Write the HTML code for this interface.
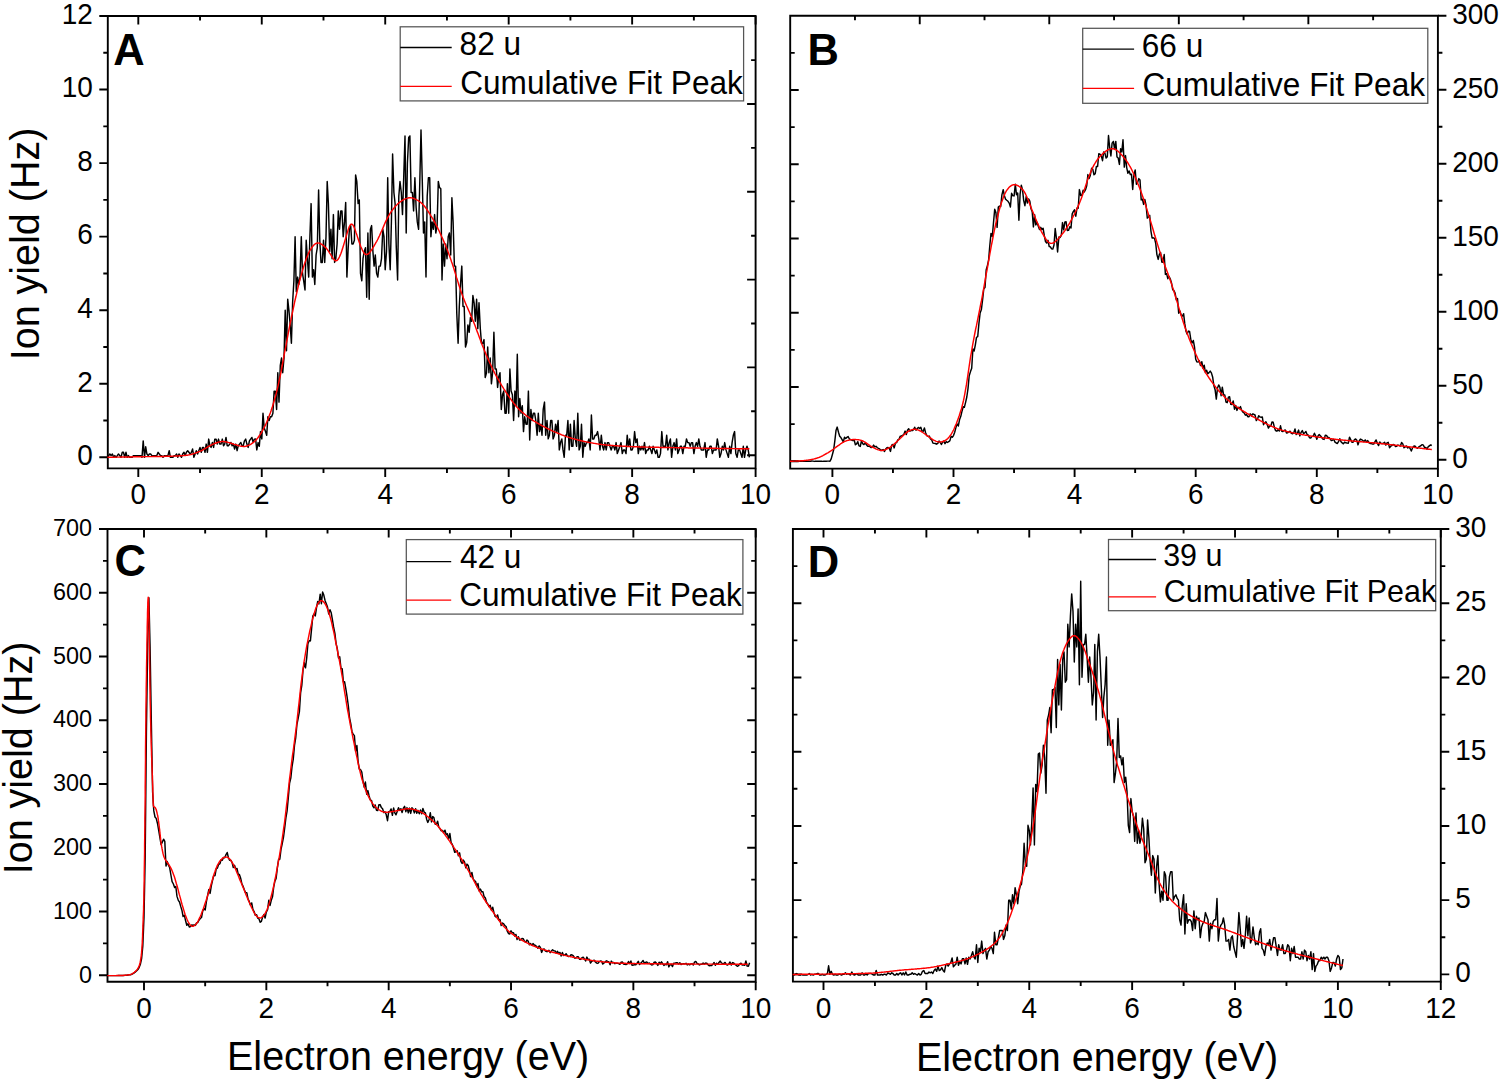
<!DOCTYPE html>
<html><head><meta charset="utf-8"><title>Ion yield spectra</title>
<style>html,body{margin:0;padding:0;background:#fff;}svg{display:block;}text{font-family:"Liberation Sans", sans-serif;}</style>
</head><body>
<svg width="1500" height="1081" viewBox="0 0 1500 1081" font-family='"Liberation Sans", sans-serif' fill="#000">
<path d="M107.8,16.0H755.6V468.4H107.8Z" fill="none" stroke="#000" stroke-width="1.9" stroke-linejoin="miter"/>
<path d="M138.30,468.4v8.5M261.76,468.4v8.5M385.22,468.4v8.5M508.68,468.4v8.5M632.14,468.4v8.5M755.60,468.4v8.5M200.03,468.4v4.5M323.49,468.4v4.5M446.95,468.4v4.5M570.41,468.4v4.5M693.87,468.4v4.5M138.30,16.0v8.5M261.76,16.0v8.5M385.22,16.0v8.5M508.68,16.0v8.5M632.14,16.0v8.5M755.60,16.0v8.5M200.03,16.0v4.5M323.49,16.0v4.5M446.95,16.0v4.5M570.41,16.0v4.5M693.87,16.0v4.5M107.8,457.30h-8.5M107.8,383.75h-8.5M107.8,310.20h-8.5M107.8,236.65h-8.5M107.8,163.10h-8.5M107.8,89.55h-8.5M107.8,16.00h-8.5M107.8,420.53h-4.5M107.8,346.98h-4.5M107.8,273.43h-4.5M107.8,199.88h-4.5M107.8,126.33h-4.5M107.8,52.78h-4.5M755.6,455.20h-8.5M755.6,411.30h-4.5M755.6,367.40h-8.5M755.6,323.50h-4.5M755.6,279.60h-8.5M755.6,235.70h-4.5M755.6,191.80h-8.5M755.6,147.90h-4.5M755.6,104.00h-8.5M755.6,60.10h-4.5" fill="none" stroke="#000" stroke-width="1.9"/>
<text transform="translate(138.30,504.00) scale(1,1.035)" text-anchor="middle" font-size="28">0</text>
<text transform="translate(261.76,504.00) scale(1,1.035)" text-anchor="middle" font-size="28">2</text>
<text transform="translate(385.22,504.00) scale(1,1.035)" text-anchor="middle" font-size="28">4</text>
<text transform="translate(508.68,504.00) scale(1,1.035)" text-anchor="middle" font-size="28">6</text>
<text transform="translate(632.14,504.00) scale(1,1.035)" text-anchor="middle" font-size="28">8</text>
<text transform="translate(755.60,504.00) scale(1,1.035)" text-anchor="middle" font-size="28">10</text>
<text transform="translate(92.80,465.10) scale(1,1.035)" text-anchor="end" font-size="28.0">0</text>
<text transform="translate(92.80,391.55) scale(1,1.035)" text-anchor="end" font-size="28.0">2</text>
<text transform="translate(92.80,318.00) scale(1,1.035)" text-anchor="end" font-size="28.0">4</text>
<text transform="translate(92.80,244.45) scale(1,1.035)" text-anchor="end" font-size="28.0">6</text>
<text transform="translate(92.80,170.90) scale(1,1.035)" text-anchor="end" font-size="28.0">8</text>
<text transform="translate(92.80,97.35) scale(1,1.035)" text-anchor="end" font-size="28.0">10</text>
<text transform="translate(92.80,23.80) scale(1,1.035)" text-anchor="end" font-size="28.0">12</text>
<text transform="translate(113.20,64.50)" font-size="43.5" font-weight="bold">A</text>
<path d="M107.4,457.3L108.7,455.6L109.9,454.0L111.1,455.6L112.4,454.0L113.6,457.3L114.8,455.6L116.1,457.3L117.3,455.6L118.5,454.0L119.8,455.6L121.0,457.3L122.3,452.3L123.5,452.3L124.7,457.3L126.0,452.3L127.2,457.3L128.4,455.6L129.7,457.3L130.9,457.3L132.1,457.3L133.4,455.6L134.6,455.6L135.8,455.6L137.1,455.6L138.3,455.6L139.5,455.6L140.8,455.6L142.0,457.3L143.2,440.9L144.5,457.3L145.7,446.8L146.9,454.0L148.2,455.6L149.4,454.0L150.6,454.0L151.9,455.6L153.1,455.6L154.3,455.6L155.6,455.6L156.8,455.6L158.1,452.3L159.3,454.0L160.5,455.6L161.8,455.6L163.0,457.3L164.2,455.6L165.5,455.6L166.7,455.6L167.9,455.6L169.2,450.7L170.4,457.3L171.6,457.3L172.9,457.3L174.1,455.6L175.3,455.6L176.6,454.0L177.8,457.3L179.0,454.0L180.3,455.6L181.5,457.3L182.7,454.0L184.0,452.3L185.2,455.6L186.4,452.3L187.7,450.7L188.9,452.3L190.2,454.0L191.4,452.3L192.6,449.0L193.9,457.3L195.1,454.0L196.3,450.7L197.6,454.0L198.8,450.7L200.0,447.4L201.3,452.3L202.5,447.4L203.7,447.4L205.0,452.3L206.2,444.1L207.4,452.3L208.7,439.1L209.9,445.7L211.1,447.4L212.4,442.4L213.6,447.4L214.8,439.1L216.1,439.1L217.3,444.1L218.5,439.1L219.8,444.1L221.0,444.1L222.3,439.1L223.5,445.7L224.7,444.1L226.0,437.4L227.2,445.7L228.4,445.7L229.7,444.1L230.9,442.4L232.1,445.7L233.4,444.1L234.6,449.0L235.8,444.1L237.1,450.7L238.3,445.7L239.5,444.1L240.8,442.4L242.0,445.7L243.2,445.7L244.5,440.8L245.7,439.1L246.9,444.1L248.2,447.4L249.4,440.8L250.6,439.1L251.9,437.4L253.1,442.4L254.4,439.1L255.6,438.9L256.8,449.9L258.1,442.6L259.3,446.3L260.5,431.6L261.8,438.9L263.0,413.2L264.2,427.9L265.5,431.6L266.7,435.2L267.9,416.8L269.2,420.5L270.4,416.8L271.6,416.8L272.9,413.2L274.1,391.1L275.3,391.1L276.6,409.5L277.8,372.7L279.0,402.1L280.3,365.4L281.5,358.0L282.7,372.7L284.0,358.0L285.2,310.2L286.5,350.7L287.7,299.2L288.9,310.2L290.2,324.9L291.4,343.3L292.6,302.8L293.9,280.8L295.1,236.7L296.3,291.8L297.6,277.1L298.8,284.5L300.0,277.1L301.3,236.7L302.5,273.4L303.7,280.8L305.0,290.0L306.2,240.3L307.4,258.7L308.7,277.1L309.9,236.7L311.1,203.6L312.4,277.1L313.6,269.7L314.8,284.5L316.1,255.0L317.3,247.7L318.6,189.9L319.8,240.3L321.0,262.4L322.3,262.4L323.5,240.3L324.7,262.4L326.0,236.7L327.2,181.5L328.4,203.6L329.7,251.4L330.9,229.3L332.1,258.7L333.4,214.6L334.6,262.4L335.8,258.7L337.1,244.0L338.3,210.9L339.5,229.3L340.8,210.9L342.0,210.9L343.2,236.7L344.5,221.9L345.7,202.4L346.9,277.1L348.2,247.7L349.4,229.3L350.7,225.6L351.9,244.0L353.1,244.0L354.4,240.3L355.6,174.9L356.8,181.5L358.1,203.6L359.3,199.9L360.5,273.4L361.8,280.8L363.0,258.7L364.2,251.4L365.5,247.7L366.7,297.3L367.9,233.0L369.2,299.2L370.4,229.3L371.6,225.6L372.9,251.4L374.1,266.1L375.3,255.0L376.6,273.4L377.8,277.1L379.0,266.1L380.3,266.1L381.5,258.7L382.8,229.3L384.0,236.7L385.2,269.7L386.5,251.4L387.7,177.8L388.9,244.0L390.2,269.7L391.4,221.9L392.6,153.9L393.9,192.5L395.1,203.6L396.3,247.7L397.6,280.0L398.8,196.2L400.0,181.5L401.3,192.5L402.5,214.6L403.7,177.8L405.0,135.9L406.2,233.0L407.4,163.1L408.7,137.4L409.9,135.9L411.1,192.5L412.4,192.5L413.6,210.9L414.9,177.8L416.1,207.2L417.3,221.9L418.6,229.3L419.8,181.5L421.0,130.0L422.3,181.5L423.5,233.0L424.7,221.9L426.0,277.1L427.2,196.2L428.4,177.8L429.7,177.8L430.9,236.7L432.1,221.9L433.4,229.3L434.6,214.6L435.8,233.0L437.1,225.6L438.3,181.5L439.5,187.4L440.8,188.8L442.0,280.0L443.2,244.0L444.5,266.1L445.7,244.0L447.0,258.7L448.2,236.7L449.4,233.0L450.7,255.0L451.9,197.7L453.1,221.9L454.4,266.1L455.6,266.1L456.8,313.9L458.1,343.3L459.3,306.5L460.5,284.5L461.8,266.1L463.0,306.5L464.2,306.5L465.5,347.0L466.7,342.6L467.9,324.9L469.2,332.3L470.4,317.6L471.6,321.2L472.9,295.5L474.1,302.8L475.3,321.2L476.6,299.2L477.8,328.6L479.0,302.8L480.3,328.6L481.5,343.3L482.8,343.3L484.0,339.6L485.2,377.5L486.5,372.7L487.7,347.0L488.9,372.7L490.2,358.0L491.4,383.8L492.6,372.7L493.9,332.3L495.1,369.0L496.3,369.0L497.6,387.4L498.8,376.4L500.0,372.7L501.3,409.5L502.5,394.8L503.7,391.1L505.0,413.2L506.2,413.2L507.4,383.8L508.7,413.2L509.9,369.0L511.1,391.1L512.4,394.8L513.6,420.5L514.9,391.1L516.1,405.8L517.3,354.3L518.6,416.8L519.8,398.5L521.0,413.2L522.3,405.8L523.5,431.6L524.7,416.8L526.0,424.2L527.2,424.2L528.4,391.1L529.7,440.0L530.9,409.5L532.1,420.5L533.4,413.2L534.6,413.2L535.8,420.5L537.1,435.2L538.3,413.2L539.5,431.6L540.8,424.2L542.0,435.2L543.2,409.5L544.5,402.1L545.7,435.2L547.0,420.5L548.2,438.9L549.4,435.2L550.7,420.5L551.9,420.5L553.1,438.9L554.4,435.2L555.6,424.2L556.8,431.6L558.1,420.5L559.3,449.9L560.5,442.6L561.8,438.9L563.0,449.9L564.2,457.3L565.5,435.2L566.7,435.2L567.9,420.5L569.2,449.9L570.4,424.2L571.6,446.3L572.9,446.3L574.1,420.5L575.3,438.9L576.6,446.3L577.8,413.2L579.1,449.9L580.3,446.3L581.5,424.2L582.8,457.3L584.0,442.6L585.2,446.3L586.5,442.6L587.7,442.6L588.9,438.9L590.2,449.9L591.4,415.0L592.6,438.9L593.9,438.9L595.1,435.2L596.3,435.2L597.6,431.6L598.8,438.9L600.0,449.9L601.3,435.2L602.5,446.3L603.7,449.9L605.0,442.6L606.2,449.9L607.4,442.6L608.7,442.6L609.9,446.3L611.2,449.9L612.4,446.3L613.6,446.3L614.9,449.9L616.1,442.6L617.3,453.6L618.6,449.9L619.8,446.3L621.0,442.6L622.3,453.6L623.5,449.9L624.7,449.9L626.0,453.6L627.2,435.2L628.4,446.3L629.7,438.9L630.9,449.9L632.1,449.9L633.4,446.3L634.6,431.6L635.8,442.6L637.1,438.9L638.3,453.6L639.5,446.3L640.8,449.9L642.0,446.3L643.3,449.9L644.5,442.6L645.7,453.6L647.0,449.9L648.2,449.9L649.4,446.3L650.7,449.9L651.9,453.6L653.1,446.3L654.4,449.9L655.6,453.6L656.8,449.9L658.1,457.3L659.3,457.3L660.5,453.6L661.8,431.6L663.0,446.3L664.2,446.3L665.5,446.3L666.7,435.2L667.9,449.9L669.2,442.6L670.4,438.9L671.6,457.3L672.9,446.3L674.1,442.6L675.4,449.9L676.6,438.9L677.8,453.6L679.1,449.9L680.3,446.3L681.5,446.3L682.8,453.6L684.0,446.3L685.2,446.3L686.5,438.9L687.7,442.6L688.9,442.6L690.2,446.3L691.4,442.6L692.6,442.6L693.9,453.6L695.1,446.3L696.3,442.6L697.6,446.3L698.8,438.9L700.0,446.3L701.3,449.9L702.5,449.9L703.7,449.9L705.0,442.6L706.2,457.3L707.5,449.9L708.7,449.9L709.9,446.3L711.2,446.3L712.4,453.6L713.6,449.9L714.9,449.9L716.1,449.9L717.3,438.9L718.6,446.3L719.8,457.3L721.0,453.6L722.3,446.3L723.5,449.9L724.7,442.6L726.0,449.9L727.2,453.6L728.4,457.3L729.7,446.3L730.9,453.6L732.1,442.6L733.4,434.9L734.6,431.6L735.8,453.6L737.1,457.3L738.3,449.9L739.6,449.9L740.8,453.6L742.0,457.3L743.3,446.3L744.5,457.3L745.7,449.9L747.0,446.3L748.2,449.9L749.4,457.3" fill="none" stroke="#000" stroke-width="1.45" stroke-linejoin="round"/>
<path d="M107.4,457.3L108.1,457.3L108.9,457.3L109.6,457.3L110.3,457.2L111.0,457.2L111.7,457.2L112.4,457.2L113.1,457.2L113.9,457.2L114.6,457.2L115.3,457.1L116.0,457.1L116.7,457.1L117.4,457.1L118.1,457.1L118.9,457.1L119.6,457.1L120.3,457.1L121.0,457.0L121.7,457.0L122.4,457.0L123.1,457.0L123.9,457.0L124.6,457.0L125.3,457.0L126.0,457.0L126.7,456.9L127.4,456.9L128.1,456.9L128.9,456.9L129.6,456.9L130.3,456.9L131.0,456.9L131.7,456.9L132.4,456.8L133.1,456.8L133.9,456.8L134.6,456.8L135.3,456.8L136.0,456.8L136.7,456.8L137.4,456.8L138.1,456.7L138.9,456.7L139.6,456.7L140.3,456.7L141.0,456.7L141.7,456.7L142.4,456.7L143.1,456.7L143.9,456.7L144.6,456.6L145.3,456.6L146.0,456.6L146.7,456.6L147.4,456.6L148.1,456.6L148.9,456.6L149.6,456.6L150.3,456.6L151.0,456.6L151.7,456.6L152.4,456.5L153.1,456.5L153.9,456.5L154.6,456.5L155.3,456.5L156.0,456.5L156.7,456.5L157.4,456.5L158.1,456.5L158.9,456.5L159.6,456.4L160.3,456.4L161.0,456.4L161.7,456.4L162.4,456.4L163.1,456.4L163.9,456.4L164.6,456.4L165.3,456.3L166.0,456.3L166.7,456.3L167.4,456.3L168.1,456.3L168.8,456.2L169.6,456.2L170.3,456.2L171.0,456.2L171.7,456.2L172.4,456.1L173.1,456.1L173.8,456.1L174.6,456.1L175.3,456.0L176.0,456.0L176.7,456.0L177.4,455.9L178.1,455.9L178.8,455.9L179.6,455.8L180.3,455.8L181.0,455.7L181.7,455.7L182.4,455.6L183.1,455.6L183.8,455.5L184.6,455.5L185.3,455.4L186.0,455.3L186.7,455.3L187.4,455.2L188.1,455.1L188.8,454.9L189.6,454.8L190.3,454.6L191.0,454.5L191.7,454.3L192.4,454.1L193.1,453.8L193.8,453.6L194.6,453.4L195.3,453.1L196.0,452.8L196.7,452.6L197.4,452.3L198.1,452.0L198.8,451.7L199.6,451.4L200.3,451.1L201.0,450.8L201.7,450.5L202.4,450.1L203.1,449.7L203.8,449.3L204.6,448.9L205.3,448.5L206.0,448.0L206.7,447.6L207.4,447.2L208.1,446.7L208.8,446.3L209.6,445.9L210.3,445.5L211.0,445.1L211.7,444.8L212.4,444.4L213.1,444.1L213.8,443.8L214.6,443.5L215.3,443.3L216.0,443.0L216.7,442.7L217.4,442.5L218.1,442.3L218.8,442.1L219.6,441.9L220.3,441.7L221.0,441.6L221.7,441.5L222.4,441.5L223.1,441.5L223.8,441.5L224.6,441.6L225.3,441.7L226.0,441.9L226.7,442.0L227.4,442.2L228.1,442.4L228.8,442.6L229.5,442.8L230.3,443.1L231.0,443.3L231.7,443.5L232.4,443.7L233.1,443.9L233.8,444.2L234.5,444.4L235.3,444.6L236.0,444.8L236.7,445.0L237.4,445.3L238.1,445.5L238.8,445.7L239.5,445.9L240.3,446.1L241.0,446.2L241.7,446.3L242.4,446.4L243.1,446.5L243.8,446.5L244.5,446.4L245.3,446.4L246.0,446.2L246.7,446.0L247.4,445.8L248.1,445.5L248.8,445.2L249.5,444.9L250.3,444.5L251.0,444.1L251.7,443.6L252.4,443.1L253.1,442.6L253.8,442.1L254.5,441.5L255.3,440.8L256.0,440.1L256.7,439.3L257.4,438.4L258.1,437.5L258.8,436.5L259.5,435.5L260.3,434.4L261.0,433.3L261.7,432.2L262.4,430.9L263.1,429.7L263.8,428.3L264.5,426.9L265.3,425.4L266.0,423.8L266.7,422.2L267.4,420.5L268.1,418.7L268.8,416.9L269.5,415.0L270.3,413.0L271.0,411.0L271.7,408.8L272.4,406.7L273.1,404.4L273.8,402.0L274.5,399.6L275.3,397.0L276.0,394.4L276.7,391.6L277.4,388.7L278.1,385.7L278.8,382.5L279.5,379.2L280.3,375.7L281.0,372.1L281.7,368.3L282.4,364.5L283.1,360.6L283.8,356.8L284.5,352.9L285.3,349.1L286.0,345.3L286.7,341.5L287.4,337.8L288.1,334.1L288.8,330.4L289.5,326.8L290.2,323.2L291.0,319.7L291.7,316.2L292.4,312.7L293.1,309.4L293.8,306.0L294.5,302.7L295.2,299.5L296.0,296.3L296.7,293.2L297.4,290.1L298.1,287.1L298.8,284.2L299.5,281.4L300.2,278.6L301.0,276.0L301.7,273.4L302.4,270.9L303.1,268.5L303.8,266.2L304.5,263.9L305.2,261.7L306.0,259.6L306.7,257.7L307.4,255.9L308.1,254.2L308.8,252.6L309.5,251.2L310.2,250.0L311.0,248.8L311.7,247.7L312.4,246.8L313.1,245.9L313.8,245.1L314.5,244.5L315.2,243.9L316.0,243.5L316.7,243.2L317.4,243.0L318.1,243.0L318.8,243.1L319.5,243.2L320.2,243.5L321.0,243.9L321.7,244.3L322.4,244.8L323.1,245.3L323.8,245.9L324.5,246.5L325.2,247.2L326.0,247.9L326.7,248.8L327.4,249.6L328.1,250.6L328.8,251.6L329.5,252.8L330.2,253.9L331.0,255.1L331.7,256.3L332.4,257.4L333.1,258.5L333.8,259.3L334.5,260.1L335.2,260.5L336.0,260.7L336.7,260.6L337.4,260.1L338.1,259.3L338.8,258.2L339.5,256.8L340.2,255.1L341.0,253.3L341.7,251.2L342.4,249.1L343.1,246.8L343.8,244.5L344.5,242.1L345.2,239.6L346.0,237.1L346.7,234.6L347.4,232.2L348.1,229.9L348.8,227.9L349.5,226.3L350.2,225.1L350.9,224.3L351.7,224.1L352.4,224.4L353.1,225.3L353.8,226.5L354.5,228.2L355.2,230.1L355.9,232.2L356.7,234.4L357.4,236.6L358.1,238.8L358.8,240.9L359.5,243.0L360.2,244.9L360.9,246.8L361.7,248.5L362.4,250.1L363.1,251.5L363.8,252.7L364.5,253.6L365.2,254.2L365.9,254.5L366.7,254.5L367.4,254.4L368.1,254.0L368.8,253.4L369.5,252.7L370.2,251.8L370.9,250.8L371.7,249.8L372.4,248.7L373.1,247.5L373.8,246.3L374.5,245.1L375.2,243.9L375.9,242.6L376.7,241.3L377.4,240.0L378.1,238.6L378.8,237.1L379.5,235.7L380.2,234.1L380.9,232.5L381.7,230.9L382.4,229.2L383.1,227.6L383.8,225.9L384.5,224.2L385.2,222.6L385.9,221.1L386.7,219.6L387.4,218.1L388.1,216.8L388.8,215.5L389.5,214.3L390.2,213.1L390.9,212.1L391.7,211.0L392.4,210.1L393.1,209.1L393.8,208.2L394.5,207.4L395.2,206.5L395.9,205.7L396.7,205.0L397.4,204.3L398.1,203.6L398.8,203.0L399.5,202.4L400.2,201.8L400.9,201.3L401.7,200.8L402.4,200.4L403.1,200.0L403.8,199.6L404.5,199.2L405.2,198.9L405.9,198.6L406.7,198.4L407.4,198.1L408.1,198.0L408.8,197.8L409.5,197.8L410.2,197.8L410.9,197.8L411.6,197.9L412.4,198.0L413.1,198.2L413.8,198.5L414.5,198.7L415.2,199.1L415.9,199.4L416.6,199.8L417.4,200.2L418.1,200.6L418.8,201.0L419.5,201.5L420.2,202.0L420.9,202.6L421.6,203.2L422.4,203.9L423.1,204.7L423.8,205.5L424.5,206.3L425.2,207.2L425.9,208.2L426.6,209.2L427.4,210.2L428.1,211.3L428.8,212.4L429.5,213.5L430.2,214.6L430.9,215.8L431.6,216.9L432.4,218.1L433.1,219.3L433.8,220.6L434.5,221.9L435.2,223.2L435.9,224.6L436.6,226.0L437.4,227.4L438.1,228.9L438.8,230.3L439.5,231.8L440.2,233.4L440.9,234.9L441.6,236.5L442.4,238.1L443.1,239.7L443.8,241.4L444.5,243.1L445.2,244.8L445.9,246.5L446.6,248.3L447.4,250.1L448.1,252.0L448.8,253.9L449.5,255.8L450.2,257.8L450.9,259.8L451.6,261.9L452.4,264.0L453.1,266.2L453.8,268.4L454.5,270.7L455.2,273.0L455.9,275.4L456.6,277.7L457.4,280.1L458.1,282.4L458.8,284.7L459.5,286.9L460.2,289.1L460.9,291.2L461.6,293.3L462.4,295.2L463.1,297.2L463.8,299.0L464.5,300.8L465.2,302.5L465.9,304.2L466.6,305.8L467.4,307.5L468.1,309.1L468.8,310.7L469.5,312.3L470.2,313.9L470.9,315.6L471.6,317.2L472.3,318.9L473.1,320.7L473.8,322.5L474.5,324.3L475.2,326.1L475.9,328.0L476.6,329.9L477.3,331.9L478.1,333.8L478.8,335.8L479.5,337.7L480.2,339.6L480.9,341.6L481.6,343.5L482.3,345.3L483.1,347.1L483.8,348.9L484.5,350.7L485.2,352.4L485.9,354.1L486.6,355.8L487.3,357.4L488.1,359.1L488.8,360.7L489.5,362.2L490.2,363.8L490.9,365.3L491.6,366.8L492.3,368.3L493.1,369.8L493.8,371.2L494.5,372.6L495.2,374.0L495.9,375.3L496.6,376.6L497.3,377.9L498.1,379.2L498.8,380.5L499.5,381.7L500.2,382.9L500.9,384.1L501.6,385.3L502.3,386.5L503.1,387.6L503.8,388.8L504.5,389.9L505.2,391.0L505.9,392.1L506.6,393.1L507.3,394.2L508.1,395.3L508.8,396.3L509.5,397.4L510.2,398.4L510.9,399.4L511.6,400.4L512.3,401.4L513.1,402.3L513.8,403.3L514.5,404.2L515.2,405.0L515.9,405.9L516.6,406.7L517.3,407.5L518.1,408.2L518.8,409.0L519.5,409.7L520.2,410.4L520.9,411.0L521.6,411.7L522.3,412.3L523.1,412.9L523.8,413.5L524.5,414.1L525.2,414.7L525.9,415.3L526.6,415.8L527.3,416.3L528.1,416.9L528.8,417.4L529.5,417.9L530.2,418.4L530.9,418.9L531.6,419.4L532.3,419.9L533.0,420.3L533.8,420.8L534.5,421.3L535.2,421.7L535.9,422.1L536.6,422.6L537.3,423.0L538.0,423.4L538.8,423.8L539.5,424.3L540.2,424.7L540.9,425.1L541.6,425.5L542.3,425.8L543.0,426.2L543.8,426.6L544.5,427.0L545.2,427.3L545.9,427.7L546.6,428.1L547.3,428.4L548.0,428.8L548.8,429.1L549.5,429.5L550.2,429.8L550.9,430.1L551.6,430.5L552.3,430.8L553.0,431.1L553.8,431.4L554.5,431.8L555.2,432.1L555.9,432.4L556.6,432.7L557.3,433.0L558.0,433.3L558.8,433.6L559.5,433.9L560.2,434.2L560.9,434.5L561.6,434.8L562.3,435.1L563.0,435.3L563.8,435.6L564.5,435.9L565.2,436.1L565.9,436.4L566.6,436.6L567.3,436.9L568.0,437.1L568.8,437.3L569.5,437.6L570.2,437.8L570.9,438.0L571.6,438.2L572.3,438.4L573.0,438.6L573.8,438.8L574.5,439.0L575.2,439.2L575.9,439.4L576.6,439.6L577.3,439.8L578.0,440.0L578.8,440.2L579.5,440.3L580.2,440.5L580.9,440.7L581.6,440.9L582.3,441.0L583.0,441.2L583.8,441.3L584.5,441.5L585.2,441.6L585.9,441.8L586.6,441.9L587.3,442.1L588.0,442.2L588.8,442.4L589.5,442.5L590.2,442.6L590.9,442.8L591.6,442.9L592.3,443.0L593.0,443.1L593.7,443.3L594.5,443.4L595.2,443.5L595.9,443.6L596.6,443.7L597.3,443.9L598.0,444.0L598.7,444.1L599.5,444.2L600.2,444.3L600.9,444.4L601.6,444.5L602.3,444.6L603.0,444.6L603.7,444.7L604.5,444.8L605.2,444.9L605.9,444.9L606.6,445.0L607.3,445.1L608.0,445.1L608.7,445.2L609.5,445.3L610.2,445.3L610.9,445.4L611.6,445.4L612.3,445.5L613.0,445.5L613.7,445.6L614.5,445.6L615.2,445.7L615.9,445.7L616.6,445.8L617.3,445.8L618.0,445.9L618.7,445.9L619.5,446.0L620.2,446.0L620.9,446.0L621.6,446.1L622.3,446.1L623.0,446.2L623.7,446.2L624.5,446.2L625.2,446.3L625.9,446.3L626.6,446.4L627.3,446.4L628.0,446.4L628.7,446.5L629.5,446.5L630.2,446.5L630.9,446.6L631.6,446.6L632.3,446.6L633.0,446.6L633.7,446.7L634.5,446.7L635.2,446.7L635.9,446.8L636.6,446.8L637.3,446.8L638.0,446.8L638.7,446.9L639.5,446.9L640.2,446.9L640.9,446.9L641.6,446.9L642.3,447.0L643.0,447.0L643.7,447.0L644.5,447.0L645.2,447.0L645.9,447.1L646.6,447.1L647.3,447.1L648.0,447.1L648.7,447.1L649.5,447.1L650.2,447.2L650.9,447.2L651.6,447.2L652.3,447.2L653.0,447.2L653.7,447.2L654.4,447.3L655.2,447.3L655.9,447.3L656.6,447.3L657.3,447.3L658.0,447.3L658.7,447.3L659.4,447.4L660.2,447.4L660.9,447.4L661.6,447.4L662.3,447.4L663.0,447.4L663.7,447.4L664.4,447.4L665.2,447.5L665.9,447.5L666.6,447.5L667.3,447.5L668.0,447.5L668.7,447.5L669.4,447.5L670.2,447.5L670.9,447.6L671.6,447.6L672.3,447.6L673.0,447.6L673.7,447.6L674.4,447.6L675.2,447.6L675.9,447.6L676.6,447.7L677.3,447.7L678.0,447.7L678.7,447.7L679.4,447.7L680.2,447.7L680.9,447.7L681.6,447.7L682.3,447.8L683.0,447.8L683.7,447.8L684.4,447.8L685.2,447.8L685.9,447.8L686.6,447.8L687.3,447.8L688.0,447.9L688.7,447.9L689.4,447.9L690.2,447.9L690.9,447.9L691.6,447.9L692.3,447.9L693.0,447.9L693.7,448.0L694.4,448.0L695.2,448.0L695.9,448.0L696.6,448.0L697.3,448.0L698.0,448.0L698.7,448.0L699.4,448.1L700.2,448.1L700.9,448.1L701.6,448.1L702.3,448.1L703.0,448.1L703.7,448.1L704.4,448.1L705.2,448.2L705.9,448.2L706.6,448.2L707.3,448.2L708.0,448.2L708.7,448.2L709.4,448.2L710.2,448.2L710.9,448.3L711.6,448.3L712.3,448.3L713.0,448.3L713.7,448.3L714.4,448.3L715.1,448.3L715.9,448.3L716.6,448.3L717.3,448.4L718.0,448.4L718.7,448.4L719.4,448.4L720.1,448.4L720.9,448.4L721.6,448.4L722.3,448.4L723.0,448.4L723.7,448.5L724.4,448.5L725.1,448.5L725.9,448.5L726.6,448.5L727.3,448.5L728.0,448.5L728.7,448.5L729.4,448.6L730.1,448.6L730.9,448.6L731.6,448.6L732.3,448.6L733.0,448.6L733.7,448.6L734.4,448.6L735.1,448.6L735.9,448.6L736.6,448.7L737.3,448.7L738.0,448.7L738.7,448.7L739.4,448.7L740.1,448.7L740.9,448.7L741.6,448.7L742.3,448.7L743.0,448.8L743.7,448.8L744.4,448.8L745.1,448.8L745.9,448.8L746.6,448.8L747.3,448.8L748.0,448.8L748.7,448.8L749.4,448.8" fill="none" stroke="#f00" stroke-width="1.45" stroke-linejoin="round"/>
<rect x="400.2" y="26.8" width="343.4" height="74.1" fill="#fff" stroke="#555" stroke-width="1.25"/><path d="M400.2,47.5H451.7" stroke="#000" stroke-width="1.3"/><path d="M400.2,86.3H451.7" stroke="#f00" stroke-width="1.3"/><text transform="translate(459.60,55.40) scale(1,1.035)" font-size="31.6">82 u</text><text transform="translate(460.20,94.00) scale(1,1.035)" font-size="31.6">Cumulative Fit Peak</text>
<path d="M790.2,15.7H1437.9V468.6H790.2Z" fill="none" stroke="#000" stroke-width="1.9" stroke-linejoin="miter"/>
<path d="M832.40,468.6v8.5M953.50,468.6v8.5M1074.60,468.6v8.5M1195.70,468.6v8.5M1316.80,468.6v8.5M1437.90,468.6v8.5M892.95,468.6v4.5M1014.05,468.6v4.5M1135.15,468.6v4.5M1256.25,468.6v4.5M1377.35,468.6v4.5M854.97,15.7v4.5M919.74,15.7v8.5M984.51,15.7v4.5M1049.28,15.7v8.5M1114.05,15.7v4.5M1178.82,15.7v8.5M1243.59,15.7v4.5M1308.36,15.7v8.5M1373.13,15.7v4.5M1437.9,459.80h8.5M1437.9,385.79h8.5M1437.9,311.77h8.5M1437.9,237.76h8.5M1437.9,163.74h8.5M1437.9,89.73h8.5M1437.9,15.71h8.5M1437.9,422.79h4.5M1437.9,348.78h4.5M1437.9,274.76h4.5M1437.9,200.75h4.5M1437.9,126.73h4.5M1437.9,52.72h4.5M790.2,461.30h8.5M790.2,424.17h4.5M790.2,387.03h8.5M790.2,349.90h4.5M790.2,312.77h8.5M790.2,275.63h4.5M790.2,238.50h8.5M790.2,201.37h4.5M790.2,164.24h8.5M790.2,127.10h4.5M790.2,89.97h8.5M790.2,52.84h4.5" fill="none" stroke="#000" stroke-width="1.9"/>
<text transform="translate(832.40,504.00) scale(1,1.035)" text-anchor="middle" font-size="28">0</text>
<text transform="translate(953.50,504.00) scale(1,1.035)" text-anchor="middle" font-size="28">2</text>
<text transform="translate(1074.60,504.00) scale(1,1.035)" text-anchor="middle" font-size="28">4</text>
<text transform="translate(1195.70,504.00) scale(1,1.035)" text-anchor="middle" font-size="28">6</text>
<text transform="translate(1316.80,504.00) scale(1,1.035)" text-anchor="middle" font-size="28">8</text>
<text transform="translate(1437.90,504.00) scale(1,1.035)" text-anchor="middle" font-size="28">10</text>
<text transform="translate(1452.20,467.70) scale(1,1.035)" font-size="28.0">0</text>
<text transform="translate(1452.20,393.69) scale(1,1.035)" font-size="28.0">50</text>
<text transform="translate(1452.20,319.67) scale(1,1.035)" font-size="28.0">100</text>
<text transform="translate(1452.20,245.66) scale(1,1.035)" font-size="28.0">150</text>
<text transform="translate(1452.20,171.64) scale(1,1.035)" font-size="28.0">200</text>
<text transform="translate(1452.20,97.63) scale(1,1.035)" font-size="28.0">250</text>
<text transform="translate(1452.20,23.61) scale(1,1.035)" font-size="28.0">300</text>
<text transform="translate(807.60,64.50)" font-size="43.5" font-weight="bold">B</text>
<path d="M790.0,461.1L791.2,461.3L792.4,461.2L793.6,461.2L794.9,461.2L796.1,461.4L797.3,461.3L798.5,461.4L799.7,461.2L800.9,461.3L802.1,461.2L803.3,461.4L804.5,461.3L805.8,461.2L807.0,461.4L808.2,461.1L809.4,461.2L810.6,461.3L811.8,461.0L813.0,461.1L814.2,461.4L815.4,461.2L816.7,461.3L817.9,461.2L819.1,461.3L820.3,461.2L821.5,461.2L822.7,461.4L823.9,461.2L825.1,461.1L826.3,461.2L827.6,461.1L828.8,461.1L830.0,461.2L831.2,458.9L832.4,454.5L833.6,450.0L834.8,441.2L836.0,430.6L837.2,427.1L838.5,432.3L839.7,436.3L840.9,437.6L842.1,439.6L843.3,442.0L844.5,437.2L845.7,438.5L846.9,437.4L848.1,436.5L849.4,439.0L850.6,439.6L851.8,440.2L853.0,440.5L854.2,440.1L855.4,444.7L856.6,443.9L857.8,441.7L859.0,445.9L860.3,446.4L861.5,440.7L862.7,443.7L863.9,444.6L865.1,443.1L866.3,444.5L867.5,446.2L868.7,446.2L869.9,446.7L871.2,447.6L872.4,447.1L873.6,445.1L874.8,446.9L876.0,446.3L877.2,447.5L878.4,448.3L879.6,448.9L880.8,450.5L882.1,450.0L883.3,449.6L884.5,451.5L885.7,449.0L886.9,447.8L888.1,447.5L889.3,448.3L890.5,451.4L891.7,445.2L893.0,444.4L894.2,447.9L895.4,443.2L896.6,442.7L897.8,439.9L899.0,439.3L900.2,436.2L901.4,436.0L902.6,435.3L903.8,434.4L905.1,431.1L906.3,434.6L907.5,430.3L908.7,428.7L909.9,431.2L911.1,430.4L912.3,430.6L913.5,429.6L914.7,427.2L916.0,430.2L917.2,428.6L918.4,427.4L919.6,428.5L920.8,427.3L922.0,430.9L923.2,431.3L924.4,427.9L925.6,432.7L926.9,435.7L928.1,436.5L929.3,436.1L930.5,438.9L931.7,439.8L932.9,443.1L934.1,443.4L935.3,443.5L936.5,444.2L937.8,443.3L939.0,441.0L940.2,442.3L941.4,444.5L942.6,442.1L943.8,441.0L945.0,443.7L946.2,441.6L947.4,442.5L948.7,441.7L949.9,440.6L951.1,436.4L952.3,437.2L953.5,435.6L954.7,432.2L955.9,427.6L957.1,423.9L958.3,426.0L959.6,419.4L960.8,416.3L962.0,411.2L963.2,406.8L964.4,407.2L965.6,402.3L966.8,397.0L968.0,388.6L969.2,375.8L970.5,371.6L971.7,368.2L972.9,348.9L974.1,351.0L975.3,345.1L976.5,337.3L977.7,336.7L978.9,323.6L980.1,313.1L981.4,309.5L982.6,299.6L983.8,288.7L985.0,287.4L986.2,269.7L987.4,265.6L988.6,260.2L989.8,245.5L991.0,233.4L992.3,236.4L993.5,222.6L994.7,209.3L995.9,212.4L997.1,227.4L998.3,207.1L999.5,206.1L1000.7,206.5L1001.9,194.9L1003.2,189.7L1004.4,195.8L1005.6,199.2L1006.8,200.3L1008.0,201.3L1009.2,203.1L1010.4,207.0L1011.6,193.2L1012.8,195.8L1014.1,195.9L1015.3,184.2L1016.5,194.7L1017.7,193.0L1018.9,220.2L1020.1,194.1L1021.3,185.3L1022.5,189.6L1023.7,200.6L1024.9,205.7L1026.2,196.6L1027.4,203.1L1028.6,198.9L1029.8,201.1L1031.0,208.7L1032.2,211.6L1033.4,226.9L1034.6,214.7L1035.8,224.9L1037.1,222.2L1038.3,226.3L1039.5,229.6L1040.7,227.3L1041.9,229.4L1043.1,228.2L1044.3,235.7L1045.5,241.5L1046.7,243.1L1048.0,240.3L1049.2,246.5L1050.4,246.9L1051.6,248.9L1052.8,249.1L1054.0,245.0L1055.2,228.5L1056.4,238.0L1057.6,252.0L1058.9,237.0L1060.1,237.5L1061.3,235.4L1062.5,222.6L1063.7,229.8L1064.9,221.9L1066.1,221.8L1067.3,230.5L1068.5,230.4L1069.8,226.8L1071.0,227.9L1072.2,213.9L1073.4,211.4L1074.6,209.8L1075.8,216.2L1077.0,208.0L1078.2,208.2L1079.4,189.6L1080.7,195.5L1081.9,195.4L1083.1,190.3L1084.3,191.9L1085.5,189.7L1086.7,185.9L1087.9,174.6L1089.1,178.5L1090.3,175.4L1091.6,168.3L1092.8,169.3L1094.0,174.8L1095.2,173.7L1096.4,166.4L1097.6,166.5L1098.8,153.8L1100.0,154.2L1101.2,155.4L1102.5,160.7L1103.7,151.9L1104.9,153.1L1106.1,158.1L1107.3,156.7L1108.5,135.5L1109.7,147.7L1110.9,156.0L1112.1,143.2L1113.4,141.4L1114.6,149.4L1115.8,141.4L1117.0,157.0L1118.2,158.0L1119.4,164.4L1120.6,148.7L1121.8,151.9L1123.0,139.8L1124.3,167.1L1125.5,155.6L1126.7,167.6L1127.9,173.3L1129.1,170.9L1130.3,174.5L1131.5,174.2L1132.7,189.5L1133.9,174.7L1135.2,170.0L1136.4,184.2L1137.6,182.6L1138.8,178.6L1140.0,180.0L1141.2,199.9L1142.4,199.2L1143.6,204.4L1144.8,199.4L1146.0,204.8L1147.3,218.1L1148.5,217.0L1149.7,215.4L1150.9,230.8L1152.1,238.0L1153.3,237.8L1154.5,238.4L1155.7,243.2L1156.9,254.6L1158.2,259.4L1159.4,254.2L1160.6,252.5L1161.8,262.1L1163.0,262.2L1164.2,254.5L1165.4,274.4L1166.6,273.7L1167.8,278.7L1169.1,276.5L1170.3,279.0L1171.5,282.9L1172.7,289.6L1173.9,290.6L1175.1,293.1L1176.3,299.8L1177.5,298.6L1178.7,313.2L1180.0,311.1L1181.2,315.2L1182.4,316.1L1183.6,313.7L1184.8,323.9L1186.0,331.2L1187.2,334.1L1188.4,331.1L1189.6,331.5L1190.9,340.0L1192.1,343.0L1193.3,340.5L1194.5,346.8L1195.7,359.2L1196.9,361.9L1198.1,362.1L1199.3,360.7L1200.5,365.5L1201.8,361.7L1203.0,368.2L1204.2,365.2L1205.4,372.6L1206.6,370.2L1207.8,373.7L1209.0,372.6L1210.2,371.1L1211.4,372.9L1212.7,377.3L1213.9,385.8L1215.1,389.7L1216.3,399.1L1217.5,388.0L1218.7,384.9L1219.9,387.3L1221.1,395.7L1222.3,387.2L1223.6,394.9L1224.8,395.0L1226.0,402.1L1227.2,402.7L1228.4,397.2L1229.6,396.8L1230.8,404.3L1232.0,404.5L1233.2,400.9L1234.5,409.2L1235.7,405.5L1236.9,410.4L1238.1,407.3L1239.3,408.5L1240.5,406.6L1241.7,410.4L1242.9,412.2L1244.1,412.8L1245.4,415.2L1246.6,414.6L1247.8,416.7L1249.0,416.8L1250.2,413.8L1251.4,416.0L1252.6,413.9L1253.8,414.3L1255.0,415.0L1256.3,420.6L1257.5,419.1L1258.7,415.8L1259.9,416.9L1261.1,417.2L1262.3,416.9L1263.5,424.7L1264.7,422.9L1265.9,421.8L1267.1,424.2L1268.4,428.1L1269.6,426.1L1270.8,426.1L1272.0,422.0L1273.2,422.3L1274.4,427.4L1275.6,430.7L1276.8,431.2L1278.0,429.7L1279.3,431.0L1280.5,425.8L1281.7,431.2L1282.9,431.5L1284.1,430.5L1285.3,430.0L1286.5,433.0L1287.7,432.8L1288.9,431.7L1290.2,431.3L1291.4,433.4L1292.6,433.8L1293.8,432.7L1295.0,429.0L1296.2,434.6L1297.4,433.1L1298.6,430.1L1299.8,435.9L1301.1,432.3L1302.3,430.6L1303.5,433.6L1304.7,432.9L1305.9,431.4L1307.1,434.5L1308.3,435.1L1309.5,437.7L1310.7,438.0L1312.0,436.4L1313.2,436.3L1314.4,433.2L1315.6,435.8L1316.8,439.2L1318.0,435.9L1319.2,434.6L1320.4,435.7L1321.6,437.3L1322.9,439.1L1324.1,439.4L1325.3,435.3L1326.5,435.4L1327.7,437.4L1328.9,437.4L1330.1,438.8L1331.3,440.5L1332.5,440.2L1333.8,439.3L1335.0,442.1L1336.2,443.0L1337.4,443.5L1338.6,441.4L1339.8,438.7L1341.0,441.8L1342.2,442.9L1343.4,443.8L1344.7,442.1L1345.9,442.8L1347.1,443.1L1348.3,443.2L1349.5,437.2L1350.7,439.5L1351.9,442.2L1353.1,442.3L1354.3,439.8L1355.6,438.9L1356.8,440.3L1358.0,444.9L1359.2,441.0L1360.4,439.1L1361.6,439.7L1362.8,440.5L1364.0,441.6L1365.2,439.9L1366.5,442.0L1367.7,440.6L1368.9,442.6L1370.1,443.5L1371.3,443.6L1372.5,444.0L1373.7,444.1L1374.9,441.9L1376.1,439.9L1377.4,443.5L1378.6,445.6L1379.8,441.9L1381.0,443.4L1382.2,443.4L1383.4,443.4L1384.6,442.3L1385.8,445.1L1387.0,442.8L1388.2,442.3L1389.5,447.7L1390.7,446.2L1391.9,445.5L1393.1,444.5L1394.3,444.9L1395.5,446.5L1396.7,446.3L1397.9,445.1L1399.1,445.4L1400.4,446.0L1401.6,442.4L1402.8,443.9L1404.0,447.7L1405.2,446.8L1406.4,445.9L1407.6,448.0L1408.8,447.1L1410.0,448.2L1411.3,451.0L1412.5,447.9L1413.7,446.2L1414.9,446.0L1416.1,447.2L1417.3,448.3L1418.5,447.2L1419.7,446.4L1420.9,445.6L1422.2,444.7L1423.4,445.2L1424.6,447.6L1425.8,447.5L1427.0,449.2L1428.2,446.7L1429.4,445.8L1430.6,444.9L1431.8,445.5" fill="none" stroke="#000" stroke-width="1.45" stroke-linejoin="round"/>
<path d="M790.0,461.2L790.7,461.2L791.4,461.2L792.2,461.2L792.9,461.2L793.6,461.1L794.3,461.1L795.0,461.1L795.7,461.1L796.4,461.0L797.2,461.0L797.9,461.0L798.6,460.9L799.3,460.9L800.0,460.9L800.7,460.8L801.4,460.8L802.2,460.7L802.9,460.7L803.6,460.6L804.3,460.5L805.0,460.5L805.7,460.4L806.4,460.3L807.1,460.2L807.9,460.1L808.6,460.0L809.3,459.9L810.0,459.8L810.7,459.7L811.4,459.5L812.1,459.4L812.9,459.2L813.6,459.1L814.3,458.9L815.0,458.7L815.7,458.5L816.4,458.3L817.1,458.1L817.9,457.8L818.6,457.6L819.3,457.3L820.0,457.0L820.7,456.7L821.4,456.3L822.1,456.0L822.9,455.6L823.6,455.2L824.3,454.8L825.0,454.4L825.7,454.0L826.4,453.6L827.1,453.2L827.9,452.8L828.6,452.4L829.3,451.9L830.0,451.5L830.7,451.0L831.4,450.5L832.1,450.1L832.9,449.5L833.6,449.0L834.3,448.5L835.0,448.0L835.7,447.4L836.4,446.9L837.1,446.4L837.8,445.8L838.6,445.3L839.3,444.8L840.0,444.3L840.7,443.7L841.4,443.3L842.1,442.8L842.8,442.4L843.6,442.0L844.3,441.7L845.0,441.3L845.7,441.1L846.4,440.8L847.1,440.6L847.8,440.4L848.6,440.2L849.3,440.1L850.0,439.9L850.7,439.8L851.4,439.7L852.1,439.6L852.8,439.5L853.6,439.5L854.3,439.5L855.0,439.5L855.7,439.5L856.4,439.6L857.1,439.6L857.8,439.7L858.6,439.8L859.3,439.9L860.0,440.1L860.7,440.3L861.4,440.5L862.1,440.7L862.8,441.0L863.6,441.4L864.3,441.8L865.0,442.2L865.7,442.7L866.4,443.2L867.1,443.7L867.8,444.2L868.5,444.7L869.3,445.2L870.0,445.7L870.7,446.1L871.4,446.6L872.1,447.0L872.8,447.4L873.5,447.7L874.3,448.1L875.0,448.4L875.7,448.8L876.4,449.1L877.1,449.4L877.8,449.7L878.5,449.9L879.3,450.1L880.0,450.3L880.7,450.4L881.4,450.4L882.1,450.4L882.8,450.4L883.5,450.2L884.3,450.1L885.0,449.8L885.7,449.6L886.4,449.2L887.1,448.9L887.8,448.5L888.5,448.1L889.3,447.7L890.0,447.3L890.7,446.8L891.4,446.3L892.1,445.8L892.8,445.2L893.5,444.6L894.2,444.0L895.0,443.4L895.7,442.7L896.4,442.0L897.1,441.3L897.8,440.7L898.5,440.0L899.2,439.3L900.0,438.6L900.7,437.9L901.4,437.2L902.1,436.6L902.8,435.9L903.5,435.2L904.2,434.5L905.0,433.9L905.7,433.3L906.4,432.7L907.1,432.2L907.8,431.7L908.5,431.2L909.2,430.8L910.0,430.5L910.7,430.1L911.4,429.9L912.1,429.6L912.8,429.5L913.5,429.4L914.2,429.3L915.0,429.3L915.7,429.4L916.4,429.5L917.1,429.7L917.8,429.9L918.5,430.2L919.2,430.5L920.0,430.8L920.7,431.2L921.4,431.6L922.1,432.0L922.8,432.5L923.5,433.0L924.2,433.5L924.9,434.0L925.7,434.6L926.4,435.1L927.1,435.7L927.8,436.2L928.5,436.7L929.2,437.2L929.9,437.7L930.7,438.2L931.4,438.7L932.1,439.1L932.8,439.6L933.5,440.0L934.2,440.4L934.9,440.7L935.7,441.1L936.4,441.4L937.1,441.6L937.8,441.8L938.5,441.9L939.2,442.0L939.9,442.0L940.7,442.0L941.4,441.9L942.1,441.7L942.8,441.5L943.5,441.3L944.2,441.0L944.9,440.6L945.7,440.2L946.4,439.7L947.1,439.1L947.8,438.5L948.5,437.7L949.2,436.9L949.9,436.0L950.7,435.0L951.4,433.9L952.1,432.7L952.8,431.4L953.5,430.0L954.2,428.5L954.9,426.9L955.6,425.2L956.4,423.5L957.1,421.6L957.8,419.7L958.5,417.7L959.2,415.7L959.9,413.5L960.6,411.3L961.4,408.9L962.1,406.3L962.8,403.5L963.5,400.5L964.2,397.1L964.9,393.3L965.6,389.3L966.4,384.9L967.1,380.3L967.8,375.6L968.5,370.8L969.2,366.0L969.9,361.3L970.6,356.7L971.4,352.4L972.1,348.2L972.8,344.2L973.5,340.4L974.2,336.6L974.9,333.0L975.6,329.4L976.4,325.9L977.1,322.4L977.8,319.0L978.5,315.5L979.2,311.9L979.9,308.3L980.6,304.7L981.4,301.0L982.1,297.3L982.8,293.4L983.5,289.6L984.2,285.6L984.9,281.7L985.6,277.7L986.3,273.7L987.1,269.7L987.8,265.7L988.5,261.7L989.2,257.7L989.9,253.7L990.6,249.8L991.3,245.9L992.1,242.0L992.8,238.3L993.5,234.6L994.2,231.1L994.9,227.8L995.6,224.5L996.3,221.4L997.1,218.5L997.8,215.7L998.5,213.0L999.2,210.3L999.9,207.8L1000.6,205.4L1001.3,203.1L1002.1,201.0L1002.8,198.9L1003.5,197.0L1004.2,195.3L1004.9,193.7L1005.6,192.3L1006.3,191.0L1007.1,189.9L1007.8,189.0L1008.5,188.1L1009.2,187.3L1009.9,186.6L1010.6,186.1L1011.3,185.6L1012.0,185.2L1012.8,184.9L1013.5,184.7L1014.2,184.6L1014.9,184.7L1015.6,184.8L1016.3,185.0L1017.0,185.3L1017.8,185.6L1018.5,186.0L1019.2,186.5L1019.9,187.0L1020.6,187.6L1021.3,188.3L1022.0,189.0L1022.8,189.8L1023.5,190.7L1024.2,191.7L1024.9,192.9L1025.6,194.2L1026.3,195.7L1027.0,197.3L1027.8,198.9L1028.5,200.7L1029.2,202.6L1029.9,204.4L1030.6,206.3L1031.3,208.2L1032.0,210.0L1032.8,211.8L1033.5,213.6L1034.2,215.3L1034.9,217.0L1035.6,218.7L1036.3,220.4L1037.0,222.0L1037.8,223.7L1038.5,225.3L1039.2,226.9L1039.9,228.4L1040.6,229.9L1041.3,231.3L1042.0,232.6L1042.7,233.9L1043.5,235.2L1044.2,236.4L1044.9,237.5L1045.6,238.6L1046.3,239.7L1047.0,240.6L1047.7,241.4L1048.5,242.2L1049.2,242.7L1049.9,243.1L1050.6,243.3L1051.3,243.4L1052.0,243.3L1052.7,243.1L1053.5,242.8L1054.2,242.4L1054.9,241.9L1055.6,241.3L1056.3,240.6L1057.0,239.9L1057.7,239.2L1058.5,238.4L1059.2,237.6L1059.9,236.8L1060.6,236.0L1061.3,235.2L1062.0,234.3L1062.7,233.4L1063.5,232.5L1064.2,231.5L1064.9,230.6L1065.6,229.5L1066.3,228.4L1067.0,227.3L1067.7,226.2L1068.5,225.0L1069.2,223.8L1069.9,222.6L1070.6,221.3L1071.3,220.0L1072.0,218.7L1072.7,217.4L1073.4,216.0L1074.2,214.6L1074.9,213.2L1075.6,211.7L1076.3,210.2L1077.0,208.7L1077.7,207.1L1078.4,205.4L1079.2,203.8L1079.9,202.0L1080.6,200.3L1081.3,198.4L1082.0,196.5L1082.7,194.5L1083.4,192.4L1084.2,190.3L1084.9,188.1L1085.6,186.0L1086.3,183.8L1087.0,181.7L1087.7,179.6L1088.4,177.6L1089.2,175.7L1089.9,173.9L1090.6,172.2L1091.3,170.6L1092.0,169.0L1092.7,167.5L1093.4,166.1L1094.2,164.7L1094.9,163.5L1095.6,162.3L1096.3,161.1L1097.0,160.1L1097.7,159.2L1098.4,158.3L1099.2,157.4L1099.9,156.6L1100.6,155.9L1101.3,155.2L1102.0,154.5L1102.7,153.8L1103.4,153.1L1104.1,152.5L1104.9,151.9L1105.6,151.4L1106.3,150.9L1107.0,150.4L1107.7,150.0L1108.4,149.6L1109.1,149.3L1109.9,149.1L1110.6,148.9L1111.3,148.7L1112.0,148.7L1112.7,148.7L1113.4,148.8L1114.1,149.0L1114.9,149.3L1115.6,149.6L1116.3,150.0L1117.0,150.5L1117.7,151.0L1118.4,151.6L1119.1,152.3L1119.9,153.0L1120.6,153.7L1121.3,154.5L1122.0,155.3L1122.7,156.1L1123.4,157.0L1124.1,157.9L1124.9,158.8L1125.6,159.7L1126.3,160.7L1127.0,161.7L1127.7,162.7L1128.4,163.8L1129.1,165.0L1129.8,166.2L1130.6,167.5L1131.3,168.9L1132.0,170.3L1132.7,171.7L1133.4,173.3L1134.1,174.8L1134.8,176.4L1135.6,178.1L1136.3,179.8L1137.0,181.5L1137.7,183.2L1138.4,185.0L1139.1,186.8L1139.8,188.6L1140.6,190.5L1141.3,192.4L1142.0,194.4L1142.7,196.5L1143.4,198.6L1144.1,200.7L1144.8,202.9L1145.6,205.1L1146.3,207.4L1147.0,209.6L1147.7,211.9L1148.4,214.2L1149.1,216.5L1149.8,218.8L1150.6,221.2L1151.3,223.6L1152.0,225.9L1152.7,228.3L1153.4,230.8L1154.1,233.2L1154.8,235.6L1155.6,238.0L1156.3,240.3L1157.0,242.6L1157.7,244.9L1158.4,247.2L1159.1,249.4L1159.8,251.6L1160.5,253.7L1161.3,255.7L1162.0,257.7L1162.7,259.7L1163.4,261.7L1164.1,263.6L1164.8,265.5L1165.5,267.4L1166.3,269.3L1167.0,271.2L1167.7,273.1L1168.4,275.1L1169.1,277.1L1169.8,279.1L1170.5,281.1L1171.3,283.2L1172.0,285.4L1172.7,287.6L1173.4,289.8L1174.1,292.1L1174.8,294.4L1175.5,296.7L1176.3,299.1L1177.0,301.5L1177.7,303.8L1178.4,306.2L1179.1,308.6L1179.8,311.0L1180.5,313.3L1181.3,315.7L1182.0,318.0L1182.7,320.2L1183.4,322.5L1184.1,324.6L1184.8,326.8L1185.5,328.8L1186.3,330.8L1187.0,332.8L1187.7,334.7L1188.4,336.5L1189.1,338.4L1189.8,340.2L1190.5,341.9L1191.2,343.7L1192.0,345.4L1192.7,347.1L1193.4,348.8L1194.1,350.4L1194.8,352.0L1195.5,353.6L1196.2,355.2L1197.0,356.7L1197.7,358.2L1198.4,359.6L1199.1,361.1L1199.8,362.5L1200.5,363.8L1201.2,365.1L1202.0,366.4L1202.7,367.7L1203.4,368.9L1204.1,370.1L1204.8,371.3L1205.5,372.4L1206.2,373.6L1207.0,374.7L1207.7,375.8L1208.4,376.9L1209.1,378.0L1209.8,379.0L1210.5,380.0L1211.2,381.1L1212.0,382.1L1212.7,383.1L1213.4,384.0L1214.1,385.0L1214.8,385.9L1215.5,386.8L1216.2,387.8L1216.9,388.6L1217.7,389.5L1218.4,390.4L1219.1,391.2L1219.8,392.0L1220.5,392.8L1221.2,393.6L1221.9,394.3L1222.7,395.1L1223.4,395.8L1224.1,396.5L1224.8,397.2L1225.5,397.9L1226.2,398.5L1226.9,399.2L1227.7,399.8L1228.4,400.4L1229.1,401.0L1229.8,401.6L1230.5,402.2L1231.2,402.8L1231.9,403.3L1232.7,403.9L1233.4,404.4L1234.1,404.9L1234.8,405.5L1235.5,406.0L1236.2,406.5L1236.9,407.0L1237.7,407.5L1238.4,407.9L1239.1,408.4L1239.8,408.9L1240.5,409.3L1241.2,409.8L1241.9,410.3L1242.7,410.7L1243.4,411.1L1244.1,411.6L1244.8,412.0L1245.5,412.4L1246.2,412.8L1246.9,413.3L1247.6,413.7L1248.4,414.1L1249.1,414.5L1249.8,414.9L1250.5,415.3L1251.2,415.7L1251.9,416.1L1252.6,416.5L1253.4,416.9L1254.1,417.3L1254.8,417.7L1255.5,418.1L1256.2,418.4L1256.9,418.8L1257.6,419.2L1258.4,419.6L1259.1,420.0L1259.8,420.4L1260.5,420.8L1261.2,421.1L1261.9,421.5L1262.6,421.9L1263.4,422.3L1264.1,422.6L1264.8,423.0L1265.5,423.4L1266.2,423.7L1266.9,424.1L1267.6,424.4L1268.4,424.8L1269.1,425.1L1269.8,425.4L1270.5,425.8L1271.2,426.1L1271.9,426.4L1272.6,426.7L1273.4,427.0L1274.1,427.3L1274.8,427.6L1275.5,427.9L1276.2,428.2L1276.9,428.5L1277.6,428.7L1278.3,429.0L1279.1,429.2L1279.8,429.5L1280.5,429.7L1281.2,429.9L1281.9,430.1L1282.6,430.4L1283.3,430.6L1284.1,430.7L1284.8,430.9L1285.5,431.1L1286.2,431.3L1286.9,431.5L1287.6,431.6L1288.3,431.8L1289.1,432.0L1289.8,432.1L1290.5,432.3L1291.2,432.5L1291.9,432.6L1292.6,432.8L1293.3,432.9L1294.1,433.1L1294.8,433.2L1295.5,433.4L1296.2,433.5L1296.9,433.6L1297.6,433.8L1298.3,433.9L1299.1,434.0L1299.8,434.2L1300.5,434.3L1301.2,434.4L1301.9,434.6L1302.6,434.7L1303.3,434.8L1304.1,434.9L1304.8,435.1L1305.5,435.2L1306.2,435.3L1306.9,435.4L1307.6,435.5L1308.3,435.6L1309.0,435.8L1309.8,435.9L1310.5,436.0L1311.2,436.1L1311.9,436.2L1312.6,436.3L1313.3,436.4L1314.0,436.5L1314.8,436.6L1315.5,436.7L1316.2,436.8L1316.9,436.9L1317.6,437.0L1318.3,437.1L1319.0,437.2L1319.8,437.3L1320.5,437.4L1321.2,437.5L1321.9,437.6L1322.6,437.7L1323.3,437.8L1324.0,437.9L1324.8,438.0L1325.5,438.0L1326.2,438.1L1326.9,438.2L1327.6,438.3L1328.3,438.4L1329.0,438.5L1329.8,438.6L1330.5,438.7L1331.2,438.8L1331.9,438.8L1332.6,438.9L1333.3,439.0L1334.0,439.1L1334.7,439.2L1335.5,439.3L1336.2,439.4L1336.9,439.4L1337.6,439.5L1338.3,439.6L1339.0,439.7L1339.7,439.7L1340.5,439.8L1341.2,439.9L1341.9,440.0L1342.6,440.0L1343.3,440.1L1344.0,440.2L1344.7,440.3L1345.5,440.3L1346.2,440.4L1346.9,440.5L1347.6,440.5L1348.3,440.6L1349.0,440.7L1349.7,440.7L1350.5,440.8L1351.2,440.9L1351.9,440.9L1352.6,441.0L1353.3,441.1L1354.0,441.1L1354.7,441.2L1355.5,441.3L1356.2,441.3L1356.9,441.4L1357.6,441.4L1358.3,441.5L1359.0,441.6L1359.7,441.6L1360.5,441.7L1361.2,441.8L1361.9,441.8L1362.6,441.9L1363.3,441.9L1364.0,442.0L1364.7,442.1L1365.4,442.1L1366.2,442.2L1366.9,442.3L1367.6,442.3L1368.3,442.4L1369.0,442.4L1369.7,442.5L1370.4,442.6L1371.2,442.6L1371.9,442.7L1372.6,442.8L1373.3,442.8L1374.0,442.9L1374.7,443.0L1375.4,443.0L1376.2,443.1L1376.9,443.2L1377.6,443.3L1378.3,443.3L1379.0,443.4L1379.7,443.5L1380.4,443.5L1381.2,443.6L1381.9,443.7L1382.6,443.8L1383.3,443.8L1384.0,443.9L1384.7,444.0L1385.4,444.1L1386.2,444.2L1386.9,444.2L1387.6,444.3L1388.3,444.4L1389.0,444.5L1389.7,444.6L1390.4,444.6L1391.2,444.7L1391.9,444.8L1392.6,444.9L1393.3,445.0L1394.0,445.0L1394.7,445.1L1395.4,445.2L1396.1,445.3L1396.9,445.4L1397.6,445.4L1398.3,445.5L1399.0,445.6L1399.7,445.7L1400.4,445.8L1401.1,445.9L1401.9,445.9L1402.6,446.0L1403.3,446.1L1404.0,446.2L1404.7,446.3L1405.4,446.4L1406.1,446.4L1406.9,446.5L1407.6,446.6L1408.3,446.7L1409.0,446.8L1409.7,446.9L1410.4,447.0L1411.1,447.0L1411.9,447.1L1412.6,447.2L1413.3,447.3L1414.0,447.4L1414.7,447.5L1415.4,447.6L1416.1,447.7L1416.9,447.8L1417.6,447.8L1418.3,447.9L1419.0,448.0L1419.7,448.1L1420.4,448.2L1421.1,448.3L1421.8,448.4L1422.6,448.5L1423.3,448.6L1424.0,448.7L1424.7,448.7L1425.4,448.8L1426.1,448.9L1426.8,449.0L1427.6,449.1L1428.3,449.2L1429.0,449.3L1429.7,449.3L1430.4,449.4L1431.1,449.5L1431.8,449.5" fill="none" stroke="#f00" stroke-width="1.45" stroke-linejoin="round"/>
<rect x="1082.7" y="28.3" width="345.1" height="75.0" fill="#fff" stroke="#555" stroke-width="1.25"/><path d="M1082.7,49.1H1134.1" stroke="#000" stroke-width="1.3"/><path d="M1082.7,88.4H1134.1" stroke="#f00" stroke-width="1.3"/><text transform="translate(1141.80,57.20) scale(1,1.035)" font-size="31.6">66 u</text><text transform="translate(1142.40,95.80) scale(1,1.035)" font-size="31.6">Cumulative Fit Peak</text>
<path d="M107.5,529.0H755.7V981.8H107.5Z" fill="none" stroke="#000" stroke-width="1.9" stroke-linejoin="miter"/>
<path d="M144.00,981.8v8.5M266.34,981.8v8.5M388.68,981.8v8.5M511.02,981.8v8.5M633.36,981.8v8.5M755.70,981.8v8.5M205.17,981.8v4.5M327.51,981.8v4.5M449.85,981.8v4.5M572.19,981.8v4.5M694.53,981.8v4.5M144.00,529.0v8.5M266.34,529.0v8.5M388.68,529.0v8.5M511.02,529.0v8.5M633.36,529.0v8.5M755.70,529.0v8.5M205.17,529.0v4.5M327.51,529.0v4.5M449.85,529.0v4.5M572.19,529.0v4.5M694.53,529.0v4.5M107.5,975.30h-8.5M107.5,911.54h-8.5M107.5,847.79h-8.5M107.5,784.03h-8.5M107.5,720.27h-8.5M107.5,656.51h-8.5M107.5,592.76h-8.5M107.5,529.00h-8.5M107.5,943.42h-4.5M107.5,879.66h-4.5M107.5,815.91h-4.5M107.5,752.15h-4.5M107.5,688.39h-4.5M107.5,624.64h-4.5M107.5,560.88h-4.5M755.7,975.30h-8.5M755.7,911.54h-8.5M755.7,847.79h-8.5M755.7,784.03h-8.5M755.7,720.27h-8.5M755.7,656.51h-8.5M755.7,592.76h-8.5M755.7,529.00h-8.5M755.7,943.42h-4.5M755.7,879.66h-4.5M755.7,815.91h-4.5M755.7,752.15h-4.5M755.7,688.39h-4.5M755.7,624.64h-4.5M755.7,560.88h-4.5" fill="none" stroke="#000" stroke-width="1.9"/>
<text transform="translate(144.00,1017.70) scale(1,1.035)" text-anchor="middle" font-size="28">0</text>
<text transform="translate(266.34,1017.70) scale(1,1.035)" text-anchor="middle" font-size="28">2</text>
<text transform="translate(388.68,1017.70) scale(1,1.035)" text-anchor="middle" font-size="28">4</text>
<text transform="translate(511.02,1017.70) scale(1,1.035)" text-anchor="middle" font-size="28">6</text>
<text transform="translate(633.36,1017.70) scale(1,1.035)" text-anchor="middle" font-size="28">8</text>
<text transform="translate(755.70,1017.70) scale(1,1.035)" text-anchor="middle" font-size="28">10</text>
<text transform="translate(92.10,982.50) scale(1,1.035)" text-anchor="end" font-size="23.4">0</text>
<text transform="translate(92.10,918.74) scale(1,1.035)" text-anchor="end" font-size="23.4">100</text>
<text transform="translate(92.10,854.99) scale(1,1.035)" text-anchor="end" font-size="23.4">200</text>
<text transform="translate(92.10,791.23) scale(1,1.035)" text-anchor="end" font-size="23.4">300</text>
<text transform="translate(92.10,727.47) scale(1,1.035)" text-anchor="end" font-size="23.4">400</text>
<text transform="translate(92.10,663.72) scale(1,1.035)" text-anchor="end" font-size="23.4">500</text>
<text transform="translate(92.10,599.96) scale(1,1.035)" text-anchor="end" font-size="23.4">600</text>
<text transform="translate(92.10,536.20) scale(1,1.035)" text-anchor="end" font-size="23.4">700</text>
<text transform="translate(114.40,576.00)" font-size="43.5" font-weight="bold">C</text>
<path d="M107.3,975.6L108.5,975.6L109.7,975.6L111.0,975.6L112.2,975.6L113.4,975.6L114.6,975.6L115.9,975.6L117.1,975.6L118.3,975.5L119.5,975.5L120.8,975.5L122.0,975.5L123.2,975.4L124.4,975.4L125.6,975.3L126.9,975.2L128.1,975.0L129.3,974.9L130.5,974.7L131.8,974.3L133.0,973.7L134.2,972.9L135.4,971.9L136.7,970.8L137.9,969.5L139.1,967.6L140.3,964.6L141.6,958.7L142.8,946.2L144.0,917.3L145.2,856.3L146.4,733.0L147.7,644.0L148.9,597.7L150.1,648.2L151.3,719.8L152.6,791.7L153.8,810.9L155.0,817.0L156.2,818.4L157.5,823.5L158.7,830.5L159.9,837.6L161.1,844.6L162.4,841.9L163.6,839.2L164.8,841.4L166.0,866.0L167.2,861.5L168.5,865.2L169.7,867.8L170.9,875.0L172.1,881.7L173.4,884.0L174.6,887.5L175.8,886.5L177.0,896.4L178.3,900.4L179.5,902.0L180.7,906.4L181.9,910.2L183.1,916.5L184.4,915.3L185.6,920.8L186.8,925.3L188.0,923.8L189.3,927.1L190.5,926.5L191.7,925.0L192.9,925.3L194.2,924.9L195.4,925.4L196.6,922.9L197.8,922.5L199.1,920.0L200.3,918.5L201.5,917.5L202.7,911.1L203.9,908.5L205.2,909.9L206.4,901.7L207.6,895.7L208.8,889.6L210.1,893.4L211.3,885.8L212.5,880.5L213.7,875.8L215.0,875.5L216.2,868.8L217.4,868.1L218.6,864.6L219.9,863.7L221.1,859.8L222.3,860.3L223.5,857.4L224.7,857.7L226.0,854.6L227.2,852.5L228.4,857.7L229.6,860.2L230.9,860.2L232.1,862.6L233.3,867.5L234.5,865.3L235.8,869.2L237.0,868.4L238.2,874.1L239.4,874.5L240.6,877.9L241.9,883.9L243.1,886.3L244.3,889.8L245.5,892.6L246.8,892.7L248.0,898.8L249.2,901.4L250.4,905.1L251.7,902.9L252.9,909.4L254.1,911.5L255.3,915.2L256.6,914.7L257.8,918.2L259.0,918.9L260.2,922.2L261.4,921.3L262.7,916.8L263.9,914.5L265.1,918.1L266.3,912.2L267.6,909.6L268.8,900.3L270.0,905.6L271.2,900.6L272.5,896.8L273.7,887.2L274.9,881.1L276.1,878.4L277.4,867.6L278.6,859.3L279.8,859.2L281.0,849.3L282.2,843.9L283.5,837.1L284.7,828.0L285.9,817.9L287.1,811.0L288.4,796.6L289.6,783.0L290.8,778.1L292.0,766.8L293.3,758.8L294.5,745.4L295.7,737.9L296.9,724.6L298.1,718.5L299.4,711.6L300.6,692.9L301.8,685.4L303.0,670.1L304.3,662.8L305.5,667.8L306.7,658.1L307.9,643.7L309.2,640.7L310.4,640.9L311.6,628.6L312.8,616.1L314.1,614.0L315.3,616.0L316.5,607.6L317.7,601.5L318.9,604.0L320.2,594.2L321.4,603.7L322.6,592.0L323.8,595.1L325.1,600.7L326.3,603.8L327.5,607.0L328.7,614.0L330.0,609.7L331.2,612.7L332.4,619.6L333.6,626.9L334.9,633.4L336.1,643.6L337.3,648.7L338.5,658.0L339.7,656.7L341.0,668.6L342.2,668.8L343.4,681.9L344.6,681.8L345.9,689.1L347.1,696.9L348.3,705.5L349.5,717.5L350.8,723.9L352.0,731.7L353.2,734.1L354.4,735.6L355.6,751.3L356.9,745.5L358.1,761.5L359.3,769.1L360.5,769.5L361.8,772.0L363.0,781.1L364.2,787.2L365.4,782.0L366.7,794.2L367.9,790.6L369.1,795.9L370.3,799.9L371.6,800.7L372.8,806.1L374.0,807.8L375.2,804.9L376.4,810.2L377.7,810.5L378.9,804.7L380.1,804.6L381.3,807.4L382.6,808.7L383.8,812.6L385.0,811.8L386.2,814.5L387.5,820.7L388.7,811.6L389.9,811.4L391.1,808.9L392.4,815.3L393.6,808.0L394.8,812.9L396.0,814.8L397.2,811.6L398.5,807.8L399.7,810.4L400.9,808.7L402.1,812.5L403.4,808.1L404.6,806.3L405.8,811.7L407.0,807.6L408.3,812.9L409.5,808.1L410.7,813.4L411.9,807.8L413.1,809.3L414.4,812.9L415.6,808.7L416.8,813.2L418.0,810.3L419.3,813.8L420.5,809.9L421.7,813.8L422.9,808.5L424.2,812.2L425.4,812.8L426.6,819.2L427.8,822.4L429.1,819.5L430.3,812.7L431.5,821.9L432.7,816.6L433.9,817.6L435.2,824.2L436.4,824.3L437.6,821.2L438.8,827.1L440.1,828.9L441.3,830.8L442.5,830.4L443.7,832.5L445.0,830.2L446.2,834.7L447.4,833.7L448.6,839.1L449.9,833.5L451.1,842.6L452.3,844.4L453.5,848.0L454.7,852.2L456.0,851.8L457.2,850.7L458.4,855.8L459.6,852.8L460.9,861.3L462.1,863.4L463.3,860.1L464.5,861.9L465.8,867.8L467.0,864.1L468.2,865.5L469.4,870.2L470.6,876.6L471.9,872.4L473.1,878.5L474.3,880.6L475.5,881.3L476.8,886.5L478.0,883.5L479.2,890.9L480.4,889.1L481.7,891.9L482.9,891.7L484.1,896.6L485.3,897.7L486.6,902.5L487.8,904.0L489.0,906.6L490.2,905.3L491.4,910.2L492.7,907.2L493.9,912.4L495.1,916.4L496.3,917.0L497.6,914.9L498.8,920.0L500.0,919.5L501.2,925.5L502.5,923.0L503.7,923.8L504.9,925.7L506.1,926.5L507.3,931.2L508.6,933.6L509.8,934.0L511.0,930.8L512.2,932.6L513.5,932.7L514.7,936.1L515.9,934.4L517.1,939.5L518.4,936.7L519.6,940.1L520.8,939.7L522.0,938.5L523.3,938.8L524.5,941.3L525.7,942.3L526.9,940.0L528.1,941.1L529.4,944.7L530.6,943.6L531.8,945.1L533.0,943.6L534.3,945.0L535.5,945.5L536.7,946.6L537.9,948.2L539.2,945.9L540.4,947.5L541.6,952.4L542.8,949.6L544.1,948.9L545.3,950.9L546.5,951.6L547.7,951.5L548.9,950.3L550.2,952.7L551.4,950.9L552.6,949.7L553.8,950.7L555.1,950.9L556.3,953.2L557.5,951.3L558.7,953.5L560.0,952.4L561.2,955.9L562.4,952.5L563.6,955.6L564.8,955.0L566.1,953.7L567.3,955.6L568.5,956.6L569.7,956.4L571.0,954.8L572.2,955.0L573.4,955.9L574.6,958.1L575.9,958.0L577.1,956.7L578.3,956.8L579.5,959.2L580.8,959.4L582.0,957.6L583.2,957.2L584.4,958.9L585.6,961.0L586.9,957.1L588.1,959.6L589.3,959.2L590.5,963.1L591.8,961.3L593.0,960.7L594.2,960.2L595.4,962.0L596.7,963.1L597.9,963.4L599.1,961.8L600.3,961.0L601.6,961.2L602.8,964.1L604.0,962.9L605.2,962.1L606.4,960.8L607.7,961.5L608.9,962.0L610.1,964.8L611.3,961.1L612.6,962.8L613.8,962.4L615.0,963.7L616.2,963.2L617.5,963.4L618.7,963.6L619.9,964.3L621.1,962.2L622.3,962.0L623.6,964.0L624.8,964.4L626.0,964.5L627.2,963.8L628.5,961.5L629.7,963.6L630.9,961.0L632.1,965.2L633.4,965.0L634.6,964.6L635.8,964.7L637.0,963.2L638.3,961.3L639.5,964.6L640.7,963.2L641.9,961.9L643.1,960.5L644.4,963.4L645.6,962.4L646.8,961.9L648.0,963.6L649.3,963.0L650.5,964.2L651.7,965.0L652.9,964.6L654.2,962.2L655.4,962.0L656.6,963.5L657.8,965.5L659.1,962.2L660.3,963.8L661.5,961.8L662.7,963.7L663.9,965.4L665.2,964.2L666.4,964.8L667.6,961.7L668.8,966.9L670.1,964.7L671.3,964.3L672.5,966.6L673.7,963.3L675.0,963.1L676.2,962.8L677.4,962.8L678.6,964.1L679.8,962.7L681.1,964.5L682.3,963.9L683.5,963.7L684.7,963.9L686.0,963.3L687.2,964.9L688.4,964.1L689.6,964.8L690.9,963.9L692.1,963.6L693.3,965.0L694.5,962.1L695.8,961.4L697.0,963.3L698.2,963.9L699.4,964.9L700.6,964.3L701.9,964.3L703.1,963.1L704.3,964.1L705.5,963.1L706.8,963.3L708.0,964.7L709.2,965.8L710.4,965.6L711.7,965.5L712.9,964.1L714.1,962.5L715.3,965.3L716.6,963.2L717.8,964.3L719.0,962.4L720.2,961.1L721.4,962.7L722.7,963.7L723.9,963.4L725.1,962.4L726.3,964.5L727.6,965.1L728.8,963.9L730.0,962.0L731.2,965.1L732.5,962.6L733.7,963.0L734.9,964.4L736.1,965.2L737.3,966.3L738.6,965.7L739.8,963.9L741.0,963.2L742.2,965.0L743.5,964.9L744.7,965.2L745.9,960.9L747.1,966.0L748.4,966.2L749.6,962.8" fill="none" stroke="#000" stroke-width="1.45" stroke-linejoin="round"/>
<path d="M107.3,975.6L107.8,975.6L108.3,975.6L108.9,975.6L109.4,975.6L109.9,975.6L110.4,975.6L110.9,975.6L111.4,975.6L112.0,975.6L112.5,975.6L113.0,975.6L113.5,975.6L114.0,975.6L114.6,975.6L115.1,975.6L115.6,975.6L116.1,975.6L116.6,975.5L117.1,975.5L117.7,975.5L118.2,975.5L118.7,975.5L119.2,975.5L119.7,975.5L120.3,975.5L120.8,975.5L121.3,975.5L121.8,975.4L122.3,975.4L122.8,975.4L123.4,975.4L123.9,975.3L124.4,975.3L124.9,975.3L125.4,975.2L126.0,975.2L126.5,975.1L127.0,975.1L127.5,975.0L128.0,975.0L128.6,974.9L129.1,974.8L129.6,974.7L130.1,974.6L130.6,974.5L131.1,974.3L131.7,974.1L132.2,973.8L132.7,973.5L133.2,973.1L133.7,972.7L134.3,972.3L134.8,971.9L135.3,971.4L135.8,970.9L136.3,970.4L136.8,969.9L137.4,969.2L137.9,968.4L137.9,968.4L138.0,968.3L138.0,968.2L138.1,968.0L138.2,967.9L138.3,967.8L138.3,967.6L138.4,967.5L138.5,967.3L138.6,967.2L138.6,967.0L138.7,966.8L138.8,966.7L138.9,966.5L139.0,966.3L139.0,966.2L139.1,966.0L139.2,965.8L139.3,965.6L139.3,965.4L139.4,965.2L139.5,964.9L139.6,964.7L139.6,964.4L139.7,964.1L139.8,963.8L139.9,963.5L140.0,963.2L140.0,962.9L140.1,962.5L140.2,962.2L140.3,961.8L140.3,961.4L140.4,961.0L140.5,960.6L140.6,960.2L140.6,959.7L140.7,959.3L140.8,958.8L140.9,958.3L140.9,957.8L141.0,957.3L141.1,956.8L141.2,956.2L141.3,955.6L141.3,954.9L141.4,954.2L141.5,953.4L141.6,952.6L141.6,951.7L141.7,950.7L141.8,949.7L141.9,948.7L141.9,947.6L142.0,946.5L142.1,945.3L142.2,944.1L142.3,942.8L142.3,941.4L142.4,939.7L142.5,938.0L142.6,936.1L142.6,934.2L142.7,932.1L142.8,930.0L142.9,927.9L142.9,925.8L143.0,923.7L143.1,921.7L143.2,919.7L143.2,917.8L143.3,915.8L143.4,913.7L143.5,911.6L143.6,909.3L143.6,906.9L143.7,904.2L143.8,901.3L143.9,898.1L143.9,894.4L144.0,890.2L144.1,885.6L144.2,880.5L144.2,875.2L144.3,869.5L144.4,863.6L144.5,857.5L144.6,851.2L144.6,844.7L144.7,838.2L144.8,831.6L144.9,825.0L144.9,818.5L145.0,811.4L145.1,803.8L145.2,795.7L145.2,787.1L145.3,778.4L145.4,769.4L145.5,760.4L145.5,751.5L145.6,742.7L145.7,734.2L145.8,726.0L145.9,718.4L145.9,711.4L146.0,705.0L146.1,699.5L146.2,694.4L146.2,689.2L146.3,684.1L146.4,678.9L146.5,673.8L146.5,668.7L146.6,663.7L146.7,658.7L146.8,653.9L146.9,649.1L146.9,644.5L147.0,639.9L147.1,635.6L147.2,631.4L147.2,627.3L147.3,623.5L147.4,619.8L147.5,616.4L147.5,613.2L147.6,610.2L147.7,607.5L147.8,605.1L147.8,603.0L147.9,601.2L148.0,599.7L148.1,598.6L148.2,597.7L148.2,597.3L148.3,597.3L148.4,597.8L148.5,599.1L148.5,600.9L148.6,603.3L148.7,606.2L148.8,609.6L148.8,613.4L148.9,617.6L149.0,622.1L149.1,626.9L149.2,631.9L149.2,637.2L149.3,642.5L149.4,648.0L149.5,653.6L149.5,659.1L149.6,664.6L149.7,670.1L149.8,675.4L149.8,680.5L149.9,685.4L150.0,690.1L150.1,694.4L150.1,698.4L150.2,702.1L150.3,705.7L150.4,709.3L150.5,712.9L150.5,716.4L150.6,719.9L150.7,723.3L150.8,726.7L150.8,729.9L150.9,733.1L151.0,736.2L151.1,739.1L151.1,741.9L151.2,744.6L151.3,747.1L151.4,749.6L151.5,751.9L151.5,754.2L151.6,756.4L151.7,758.5L151.8,760.6L151.8,762.6L151.9,764.6L152.0,766.6L152.1,768.6L152.1,770.6L152.2,772.6L152.3,774.6L152.4,776.6L152.4,778.7L152.5,780.8L152.6,783.2L152.7,785.8L152.8,788.5L152.8,791.3L152.9,794.1L153.0,796.8L153.1,799.3L153.1,801.5L153.2,803.3L153.3,804.7L153.4,805.6L153.4,805.9L153.5,806.1L153.6,806.2L153.7,806.4L153.8,806.5L153.8,806.6L153.9,806.7L154.0,806.7L154.1,806.8L154.1,806.9L154.2,806.9L154.3,807.0L154.4,807.0L154.4,807.1L154.5,807.1L154.6,807.1L154.7,807.2L154.7,807.2L154.8,807.3L154.9,807.3L155.0,807.4L155.1,807.5L155.1,807.6L155.2,807.7L155.3,807.8L155.4,807.9L155.4,808.0L155.5,808.1L155.6,808.3L155.7,808.5L155.7,808.6L155.8,808.8L155.9,809.0L156.0,809.2L156.1,809.4L156.1,809.6L156.2,809.9L156.3,810.1L156.4,810.4L156.4,810.6L156.5,810.9L156.6,811.1L156.7,811.4L156.7,811.7L156.8,812.0L156.9,812.3L157.0,812.6L157.0,812.9L157.1,813.2L157.2,813.5L157.3,813.9L157.4,814.2L157.4,814.5L157.5,814.9L157.6,815.2L157.7,815.6L157.7,816.0L157.8,816.4L157.9,816.8L158.0,817.3L158.0,817.7L158.1,818.2L158.2,818.7L158.3,819.3L158.3,819.8L158.4,820.4L158.5,820.9L158.6,821.5L158.7,822.1L158.7,822.7L158.8,823.3L158.9,823.9L159.0,824.5L159.0,825.1L159.1,825.7L159.2,826.3L159.3,826.9L159.3,827.6L159.4,828.2L159.5,828.8L159.6,829.4L159.7,830.1L159.7,830.8L159.8,831.5L159.9,832.2L160.0,832.9L160.0,833.6L160.1,834.3L160.2,835.1L160.3,835.8L160.3,836.5L160.4,837.2L160.5,837.9L160.6,838.6L160.6,839.2L160.7,839.9L160.8,840.5L160.9,841.1L161.0,841.7L161.0,842.3L161.1,842.9L161.2,843.4L161.3,843.9L161.3,844.4L161.4,844.8L161.5,845.3L161.6,845.8L161.6,846.2L161.7,846.7L161.8,847.1L161.9,847.6L162.0,848.0L162.0,848.4L162.1,848.9L162.2,849.3L162.3,849.7L162.3,850.1L162.4,850.5L162.5,850.9L162.6,851.3L162.6,851.7L162.7,852.0L162.8,852.4L162.9,852.8L162.9,853.1L163.0,853.4L163.1,853.8L163.2,854.1L163.3,854.4L163.3,854.7L163.4,855.0L163.5,855.2L163.6,855.5L163.6,855.8L163.7,856.0L163.8,856.2L163.9,856.5L163.9,856.7L164.0,856.9L164.1,857.1L164.2,857.3L164.3,857.4L164.3,857.6L164.4,857.8L164.5,858.0L164.6,858.1L164.6,858.3L164.7,858.5L164.8,858.6L164.9,858.8L164.9,858.9L165.0,859.1L165.1,859.2L165.2,859.4L165.2,859.5L165.3,859.7L165.4,859.8L165.5,859.9L165.6,860.1L165.6,860.2L165.7,860.3L165.8,860.4L165.9,860.6L165.9,860.7L166.0,860.8L166.1,860.9L166.2,861.0L166.2,861.2L166.3,861.3L166.4,861.4L166.5,861.5L166.6,861.6L166.6,861.7L166.7,861.8L166.8,861.9L166.9,862.0L166.9,862.1L167.0,862.2L167.1,862.3L167.2,862.4L167.2,862.5L167.3,862.6L167.4,862.7L167.5,862.8L167.5,862.9L167.6,863.0L167.7,863.1L167.8,863.2L167.9,863.3L167.9,863.4L168.0,863.5L168.1,863.6L168.2,863.7L168.2,863.8L168.3,863.9L168.4,864.0L168.5,864.1L168.5,864.1L169.2,865.2L169.9,866.3L170.6,867.6L171.4,869.1L172.1,870.7L172.8,872.5L173.5,874.4L174.3,876.5L175.0,878.8L175.7,881.2L176.4,883.7L177.2,886.3L177.9,888.9L178.6,891.7L179.3,894.4L180.1,897.1L180.8,899.8L181.5,902.5L182.2,905.0L183.0,907.5L183.7,909.9L184.4,912.2L185.1,914.4L185.9,916.4L186.6,918.3L187.3,920.0L188.0,921.5L188.8,922.9L189.5,924.0L190.2,924.9L190.9,925.6L191.7,926.0L192.4,926.2L193.1,926.2L193.8,926.0L194.6,925.5L195.3,924.9L196.0,924.1L196.7,923.2L197.5,922.1L198.2,920.8L198.9,919.4L199.6,917.9L200.4,916.3L201.1,914.6L201.8,912.7L202.5,910.8L203.3,908.8L204.0,906.7L204.7,904.6L205.4,902.4L206.2,900.2L206.9,898.0L207.6,895.7L208.3,893.4L209.1,891.0L209.8,888.6L210.5,886.2L211.2,883.7L212.0,881.2L212.7,878.7L213.4,876.3L214.1,874.0L214.9,871.8L215.6,869.7L216.3,867.9L217.0,866.2L217.8,864.7L218.5,863.3L219.2,862.2L219.9,861.1L220.7,860.2L221.4,859.4L222.1,858.7L222.8,858.2L223.6,857.7L224.3,857.4L225.0,857.1L225.7,857.0L226.5,857.1L227.2,857.2L227.9,857.6L228.6,858.1L229.4,858.7L230.1,859.5L230.8,860.4L231.5,861.5L232.3,862.6L233.0,863.9L233.7,865.2L234.4,866.7L235.2,868.3L235.9,869.9L236.6,871.7L237.3,873.5L238.1,875.3L238.8,877.1L239.5,878.9L240.2,880.6L241.0,882.3L241.7,884.0L242.4,885.7L243.1,887.4L243.9,889.2L244.6,891.0L245.3,892.8L246.0,894.7L246.8,896.4L247.5,898.2L248.2,899.9L248.9,901.5L249.7,903.2L250.4,904.8L251.1,906.4L251.8,908.0L252.6,909.5L253.3,911.0L254.0,912.4L254.7,913.6L255.5,914.7L256.2,915.6L256.9,916.4L257.6,917.1L258.4,917.5L259.1,917.8L259.8,917.9L260.5,917.9L261.3,917.6L262.0,917.2L262.7,916.5L263.4,915.8L264.2,914.8L264.9,913.7L265.6,912.5L266.3,911.1L267.1,909.5L267.8,907.6L268.5,905.6L269.2,903.4L270.0,900.9L270.7,898.3L271.4,895.5L272.1,892.6L272.9,889.5L273.6,886.3L274.3,882.9L275.0,879.4L275.8,875.8L276.5,872.0L277.2,868.2L277.9,864.2L278.7,860.1L279.4,856.0L280.1,851.8L280.8,847.4L281.6,842.9L282.3,838.2L283.0,833.3L283.7,828.2L284.5,822.8L285.2,817.1L285.9,811.1L286.6,804.9L287.4,798.6L288.1,792.2L288.8,785.8L289.5,779.4L290.3,773.3L291.0,767.4L291.7,761.7L292.4,756.2L293.2,750.9L293.9,745.5L294.6,740.1L295.3,734.6L296.1,728.8L296.8,722.8L297.5,716.4L298.2,709.8L299.0,703.2L299.7,696.5L300.4,690.0L301.1,683.7L301.9,677.8L302.6,672.2L303.3,667.0L304.0,662.1L304.8,657.5L305.5,653.1L306.2,649.0L306.9,645.1L307.7,641.4L308.4,637.8L309.1,634.3L309.8,631.0L310.6,627.8L311.3,624.6L312.0,621.6L312.7,618.7L313.5,616.0L314.2,613.5L314.9,611.2L315.6,609.1L316.4,607.1L317.1,605.4L317.8,603.9L318.5,602.7L319.3,601.7L320.0,601.1L320.7,600.7L321.4,600.6L322.2,600.8L322.9,601.3L323.6,601.9L324.3,602.8L325.1,603.9L325.8,605.1L326.5,606.5L327.2,608.2L328.0,610.0L328.7,612.1L329.4,614.3L330.1,616.8L330.9,619.5L331.6,622.4L332.3,625.5L333.0,628.8L333.8,632.2L334.5,635.7L335.2,639.3L335.9,643.0L336.7,646.6L337.4,650.3L338.1,654.0L338.8,657.7L339.6,661.5L340.3,665.4L341.0,669.5L341.7,673.7L342.5,678.1L343.2,682.6L343.9,687.2L344.6,691.8L345.4,696.4L346.1,700.9L346.8,705.3L347.5,709.5L348.3,713.5L349.0,717.4L349.7,721.2L350.4,725.0L351.2,728.7L351.9,732.3L352.6,736.0L353.3,739.7L354.1,743.3L354.8,747.0L355.5,750.6L356.2,754.2L357.0,757.7L357.7,761.2L358.4,764.5L359.1,767.7L359.9,770.8L360.6,773.8L361.3,776.6L362.0,779.2L362.8,781.6L363.5,783.9L364.2,786.1L364.9,788.2L365.7,790.1L366.4,791.9L367.1,793.6L367.8,795.2L368.6,796.7L369.3,798.1L370.0,799.5L370.7,800.7L371.5,801.9L372.2,802.9L372.9,803.9L373.6,804.8L374.4,805.7L375.1,806.4L375.8,807.2L376.5,807.8L377.3,808.4L378.0,809.0L378.7,809.5L379.4,810.0L380.2,810.5L380.9,810.9L381.6,811.3L382.3,811.6L383.1,811.8L383.8,812.0L384.5,812.1L385.2,812.2L386.0,812.2L386.7,812.2L387.4,812.2L388.1,812.1L388.9,812.1L389.6,812.0L390.3,811.9L391.0,811.8L391.8,811.7L392.5,811.5L393.2,811.4L393.9,811.3L394.7,811.1L395.4,811.0L396.1,810.9L396.8,810.7L397.6,810.6L398.3,810.5L399.0,810.3L399.7,810.1L400.5,810.0L401.2,809.8L401.9,809.6L402.6,809.5L403.4,809.3L404.1,809.2L404.8,809.1L405.5,809.0L406.3,808.9L407.0,808.8L407.7,808.8L408.4,808.8L409.2,808.8L409.9,808.8L410.6,808.9L411.3,809.0L412.1,809.1L412.8,809.3L413.5,809.4L414.2,809.6L415.0,809.8L415.7,810.0L416.4,810.3L417.1,810.5L417.9,810.7L418.6,811.0L419.3,811.3L420.0,811.6L420.8,812.0L421.5,812.4L422.2,812.8L422.9,813.2L423.7,813.7L424.4,814.2L425.1,814.7L425.8,815.2L426.6,815.8L427.3,816.3L428.0,816.9L428.7,817.4L429.5,818.0L430.2,818.6L430.9,819.2L431.6,819.9L432.4,820.5L433.1,821.2L433.8,821.9L434.5,822.6L435.3,823.3L436.0,824.1L436.7,824.8L437.4,825.6L438.2,826.4L438.9,827.2L439.6,828.1L440.3,828.9L441.1,829.8L441.8,830.7L442.5,831.6L443.2,832.5L444.0,833.4L444.7,834.4L445.4,835.4L446.1,836.4L446.9,837.4L447.6,838.4L448.3,839.4L449.0,840.4L449.8,841.4L450.5,842.5L451.2,843.5L451.9,844.6L452.7,845.6L453.4,846.7L454.1,847.8L454.8,848.8L455.6,849.9L456.3,851.0L457.0,852.2L457.7,853.3L458.5,854.4L459.2,855.5L459.9,856.7L460.6,857.8L461.4,859.0L462.1,860.1L462.8,861.3L463.5,862.5L464.3,863.7L465.0,864.9L465.7,866.1L466.4,867.3L467.2,868.5L467.9,869.8L468.6,871.0L469.3,872.3L470.1,873.6L470.8,874.9L471.5,876.3L472.2,877.6L473.0,879.0L473.7,880.4L474.4,881.8L475.1,883.2L475.9,884.5L476.6,885.9L477.3,887.3L478.0,888.6L478.8,890.0L479.5,891.3L480.2,892.5L480.9,893.8L481.7,895.0L482.4,896.2L483.1,897.4L483.8,898.6L484.6,899.7L485.3,900.8L486.0,902.0L486.7,903.0L487.5,904.1L488.2,905.2L488.9,906.2L489.6,907.3L490.4,908.3L491.1,909.3L491.8,910.3L492.5,911.3L493.3,912.3L494.0,913.4L494.7,914.4L495.4,915.4L496.2,916.4L496.9,917.5L497.6,918.5L498.3,919.5L499.1,920.5L499.8,921.5L500.5,922.4L501.2,923.4L502.0,924.3L502.7,925.1L503.4,926.0L504.1,926.8L504.9,927.6L505.6,928.3L506.3,929.0L507.0,929.7L507.8,930.4L508.5,931.1L509.2,931.7L509.9,932.3L510.7,932.8L511.4,933.4L512.1,933.9L512.8,934.4L513.6,934.9L514.3,935.4L515.0,935.9L515.7,936.4L516.5,936.8L517.2,937.3L517.9,937.7L518.6,938.2L519.4,938.7L520.1,939.1L520.8,939.5L521.5,940.0L522.3,940.4L523.0,940.8L523.7,941.2L524.4,941.6L525.2,942.0L525.9,942.3L526.6,942.7L527.3,943.1L528.1,943.4L528.8,943.8L529.5,944.1L530.2,944.5L531.0,944.8L531.7,945.1L532.4,945.5L533.1,945.8L533.9,946.1L534.6,946.4L535.3,946.7L536.0,947.0L536.8,947.3L537.5,947.5L538.2,947.8L538.9,948.1L539.7,948.3L540.4,948.6L541.1,948.8L541.8,949.1L542.6,949.3L543.3,949.5L544.0,949.8L544.7,950.0L545.5,950.2L546.2,950.4L546.9,950.6L547.6,950.8L548.4,951.0L549.1,951.3L549.8,951.5L550.5,951.7L551.3,951.9L552.0,952.1L552.7,952.3L553.4,952.5L554.2,952.6L554.9,952.8L555.6,953.0L556.3,953.2L557.1,953.4L557.8,953.6L558.5,953.8L559.2,954.0L560.0,954.2L560.7,954.4L561.4,954.5L562.1,954.7L562.9,954.9L563.6,955.1L564.3,955.2L565.0,955.4L565.8,955.6L566.5,955.8L567.2,955.9L567.9,956.1L568.7,956.2L569.4,956.4L570.1,956.6L570.8,956.7L571.6,956.9L572.3,957.0L573.0,957.2L573.7,957.3L574.5,957.4L575.2,957.6L575.9,957.7L576.6,957.9L577.4,958.0L578.1,958.1L578.8,958.3L579.5,958.4L580.3,958.5L581.0,958.7L581.7,958.8L582.4,958.9L583.2,959.1L583.9,959.2L584.6,959.3L585.3,959.4L586.1,959.5L586.8,959.7L587.5,959.8L588.2,959.9L589.0,960.0L589.7,960.1L590.4,960.2L591.1,960.4L591.9,960.5L592.6,960.6L593.3,960.7L594.0,960.8L594.8,960.9L595.5,961.0L596.2,961.1L596.9,961.2L597.7,961.2L598.4,961.3L599.1,961.4L599.8,961.5L600.6,961.6L601.3,961.7L602.0,961.8L602.7,961.8L603.5,961.9L604.2,962.0L604.9,962.1L605.6,962.1L606.4,962.2L607.1,962.3L607.8,962.3L608.5,962.4L609.3,962.5L610.0,962.5L610.7,962.6L611.4,962.6L612.2,962.7L612.9,962.7L613.6,962.8L614.3,962.8L615.1,962.9L615.8,962.9L616.5,962.9L617.2,963.0L618.0,963.0L618.7,963.1L619.4,963.1L620.1,963.1L620.9,963.2L621.6,963.2L622.3,963.2L623.0,963.3L623.8,963.3L624.5,963.3L625.2,963.3L625.9,963.4L626.7,963.4L627.4,963.4L628.1,963.4L628.8,963.4L629.6,963.4L630.3,963.5L631.0,963.5L631.7,963.5L632.5,963.5L633.2,963.5L633.9,963.5L634.6,963.5L635.4,963.6L636.1,963.6L636.8,963.6L637.5,963.6L638.3,963.6L639.0,963.6L639.7,963.6L640.4,963.6L641.2,963.7L641.9,963.7L642.6,963.7L643.3,963.7L644.1,963.7L644.8,963.7L645.5,963.7L646.2,963.7L647.0,963.7L647.7,963.7L648.4,963.7L649.1,963.8L649.9,963.8L650.6,963.8L651.3,963.8L652.0,963.8L652.8,963.8L653.5,963.8L654.2,963.8L654.9,963.8L655.7,963.8L656.4,963.8L657.1,963.8L657.8,963.8L658.6,963.8L659.3,963.9L660.0,963.9L660.7,963.9L661.5,963.9L662.2,963.9L662.9,963.9L663.6,963.9L664.4,963.9L665.1,963.9L665.8,963.9L666.5,963.9L667.3,963.9L668.0,963.9L668.7,963.9L669.4,963.9L670.2,963.9L670.9,963.9L671.6,963.9L672.3,963.9L673.1,963.9L673.8,963.9L674.5,964.0L675.2,964.0L676.0,964.0L676.7,964.0L677.4,964.0L678.1,964.0L678.9,964.0L679.6,964.0L680.3,964.0L681.0,964.0L681.8,964.0L682.5,964.0L683.2,964.0L683.9,964.0L684.7,964.0L685.4,964.0L686.1,964.0L686.8,964.0L687.6,964.0L688.3,964.0L689.0,964.0L689.7,964.0L690.5,964.0L691.2,964.0L691.9,964.0L692.6,964.0L693.4,964.0L694.1,964.1L694.8,964.1L695.5,964.1L696.3,964.1L697.0,964.1L697.7,964.1L698.4,964.1L699.2,964.1L699.9,964.1L700.6,964.1L701.3,964.1L702.1,964.1L702.8,964.1L703.5,964.1L704.2,964.1L705.0,964.1L705.7,964.1L706.4,964.1L707.1,964.1L707.9,964.1L708.6,964.1L709.3,964.1L710.0,964.1L710.8,964.1L711.5,964.1L712.2,964.1L712.9,964.1L713.7,964.1L714.4,964.1L715.1,964.1L715.8,964.2L716.6,964.2L717.3,964.2L718.0,964.2L718.7,964.2L719.5,964.2L720.2,964.2L720.9,964.2L721.6,964.2L722.4,964.2L723.1,964.2L723.8,964.2L724.5,964.2L725.3,964.2L726.0,964.2L726.7,964.2L727.4,964.2L728.2,964.2L728.9,964.2L729.6,964.2L730.3,964.2L731.1,964.2L731.8,964.2L732.5,964.2L733.2,964.2L734.0,964.2L734.7,964.2L735.4,964.2L736.1,964.2L736.9,964.2L737.6,964.2L738.3,964.2L739.0,964.2L739.8,964.2L740.5,964.2L741.2,964.2L741.9,964.3L742.7,964.3L743.4,964.3L744.1,964.3L744.8,964.3L745.6,964.3L746.3,964.3L747.0,964.3L747.7,964.3" fill="none" stroke="#f00" stroke-width="1.45" stroke-linejoin="round"/>
<rect x="406.3" y="539.6" width="336.6" height="74.5" fill="#fff" stroke="#555" stroke-width="1.25"/><path d="M406.3,561.6H451.2" stroke="#000" stroke-width="1.3"/><path d="M406.3,600.1H451.2" stroke="#f00" stroke-width="1.3"/><text transform="translate(459.90,567.80) scale(1,1.035)" font-size="31.6">42 u</text><text transform="translate(459.20,605.60) scale(1,1.035)" font-size="31.6">Cumulative Fit Peak</text>
<path d="M792.9,529.0H1440.8V981.6H792.9Z" fill="none" stroke="#000" stroke-width="1.9" stroke-linejoin="miter"/>
<path d="M823.50,981.6v8.5M926.38,981.6v8.5M1029.26,981.6v8.5M1132.14,981.6v8.5M1235.02,981.6v8.5M1337.90,981.6v8.5M1440.78,981.6v8.5M874.94,981.6v4.5M977.82,981.6v4.5M1080.70,981.6v4.5M1183.58,981.6v4.5M1286.46,981.6v4.5M1389.34,981.6v4.5M823.50,529.0v8.5M926.38,529.0v8.5M1029.26,529.0v8.5M1132.14,529.0v8.5M1235.02,529.0v8.5M1337.90,529.0v8.5M1440.78,529.0v8.5M874.94,529.0v4.5M977.82,529.0v4.5M1080.70,529.0v4.5M1183.58,529.0v4.5M1286.46,529.0v4.5M1389.34,529.0v4.5M1440.8,974.40h8.5M1440.8,900.16h8.5M1440.8,825.93h8.5M1440.8,751.69h8.5M1440.8,677.46h8.5M1440.8,603.22h8.5M1440.8,528.99h8.5M1440.8,937.28h4.5M1440.8,863.05h4.5M1440.8,788.81h4.5M1440.8,714.58h4.5M1440.8,640.34h4.5M1440.8,566.11h4.5M792.9,974.40h8.5M792.9,900.16h8.5M792.9,825.93h8.5M792.9,751.69h8.5M792.9,677.46h8.5M792.9,603.22h8.5M792.9,528.99h8.5M792.9,937.28h4.5M792.9,863.05h4.5M792.9,788.81h4.5M792.9,714.58h4.5M792.9,640.34h4.5M792.9,566.11h4.5" fill="none" stroke="#000" stroke-width="1.9"/>
<text transform="translate(823.50,1017.70) scale(1,1.035)" text-anchor="middle" font-size="28">0</text>
<text transform="translate(926.38,1017.70) scale(1,1.035)" text-anchor="middle" font-size="28">2</text>
<text transform="translate(1029.26,1017.70) scale(1,1.035)" text-anchor="middle" font-size="28">4</text>
<text transform="translate(1132.14,1017.70) scale(1,1.035)" text-anchor="middle" font-size="28">6</text>
<text transform="translate(1235.02,1017.70) scale(1,1.035)" text-anchor="middle" font-size="28">8</text>
<text transform="translate(1337.90,1017.70) scale(1,1.035)" text-anchor="middle" font-size="28">10</text>
<text transform="translate(1440.78,1017.70) scale(1,1.035)" text-anchor="middle" font-size="28">12</text>
<text transform="translate(1455.30,982.30) scale(1,1.035)" font-size="28.0">0</text>
<text transform="translate(1455.30,908.06) scale(1,1.035)" font-size="28.0">5</text>
<text transform="translate(1455.30,833.83) scale(1,1.035)" font-size="28.0">10</text>
<text transform="translate(1455.30,759.59) scale(1,1.035)" font-size="28.0">15</text>
<text transform="translate(1455.30,685.36) scale(1,1.035)" font-size="28.0">20</text>
<text transform="translate(1455.30,611.12) scale(1,1.035)" font-size="28.0">25</text>
<text transform="translate(1455.30,536.89) scale(1,1.035)" font-size="28.0">30</text>
<text transform="translate(807.70,576.60)" font-size="43.5" font-weight="bold">D</text>
<path d="M792.6,974.3L793.9,975.0L795.2,974.3L796.5,973.5L797.8,974.3L799.1,975.0L800.4,975.0L801.6,974.3L802.9,975.0L804.2,975.0L805.5,975.0L806.8,975.0L808.1,974.3L809.4,973.5L810.6,975.0L811.9,974.3L813.2,975.0L814.5,974.3L815.8,974.3L817.1,973.5L818.4,973.5L819.6,975.0L820.9,975.0L822.2,974.3L823.5,975.0L824.8,975.0L826.1,974.3L827.4,973.5L828.6,965.8L829.9,974.3L831.2,971.3L832.5,974.3L833.8,975.0L835.1,974.3L836.4,975.0L837.6,975.0L838.9,974.3L840.2,974.3L841.5,975.0L842.8,974.3L844.1,974.3L845.4,972.8L846.6,974.3L847.9,973.5L849.2,974.3L850.5,975.0L851.8,972.0L853.1,974.3L854.4,975.0L855.7,974.3L856.9,973.5L858.2,975.0L859.5,975.0L860.8,975.0L862.1,972.8L863.4,975.0L864.7,975.0L865.9,973.5L867.2,975.0L868.5,973.5L869.8,973.5L871.1,973.5L872.4,974.3L873.7,975.0L874.9,975.0L876.2,970.5L877.5,975.0L878.8,975.0L880.1,975.0L881.4,974.3L882.7,975.0L883.9,974.3L885.2,974.3L886.5,975.0L887.8,972.8L889.1,973.5L890.4,974.3L891.7,972.8L892.9,973.5L894.2,975.0L895.5,975.0L896.8,973.5L898.1,975.0L899.4,973.5L900.7,972.8L901.9,975.0L903.2,972.8L904.5,975.0L905.8,972.0L907.1,975.0L908.4,975.0L909.7,974.3L910.9,974.3L912.2,972.8L913.5,974.3L914.8,973.5L916.1,974.3L917.4,975.0L918.7,973.5L920.0,975.0L921.2,974.3L922.5,971.3L923.8,970.5L925.1,973.5L926.4,973.5L927.7,973.5L929.0,972.0L930.2,972.8L931.5,972.0L932.8,973.5L934.1,970.5L935.4,969.1L936.7,971.3L938.0,966.1L939.2,970.5L940.5,969.8L941.8,967.6L943.1,970.5L944.4,972.0L945.7,965.3L947.0,963.9L948.2,966.1L949.5,963.9L950.8,962.4L952.1,957.9L953.4,966.8L954.7,965.3L956.0,963.9L957.2,957.2L958.5,965.3L959.8,961.6L961.1,963.9L962.4,958.7L963.7,958.7L965.0,963.9L966.2,957.9L967.5,964.3L968.8,957.2L970.1,959.0L971.4,955.4L972.7,951.8L974.0,957.2L975.2,959.0L976.5,944.7L977.8,962.5L979.1,948.3L980.4,951.8L981.7,941.1L983.0,953.6L984.3,950.1L985.5,948.3L986.8,959.0L988.1,951.8L989.4,950.1L990.7,946.5L992.0,948.3L993.3,953.6L994.5,932.2L995.8,944.7L997.1,944.7L998.4,937.6L999.7,930.5L1001.0,930.5L1002.3,930.5L1003.5,939.4L1004.8,935.8L1006.1,925.1L1007.4,930.5L1008.7,900.2L1010.0,900.2L1011.3,909.1L1012.5,894.8L1013.8,903.7L1015.1,887.7L1016.4,894.8L1017.7,903.7L1019.0,891.3L1020.3,885.9L1021.5,884.1L1022.8,871.7L1024.1,843.2L1025.4,864.5L1026.7,866.3L1028.0,825.3L1029.3,830.7L1030.5,844.9L1031.8,821.8L1033.1,787.9L1034.4,844.9L1035.7,784.4L1037.0,791.5L1038.3,754.1L1039.5,752.9L1040.8,773.1L1042.1,765.5L1043.4,745.3L1044.7,757.9L1046.0,793.3L1047.3,720.1L1048.6,715.0L1049.8,707.5L1051.1,732.7L1052.4,689.8L1053.7,689.8L1055.0,687.3L1056.3,727.6L1057.6,659.5L1058.8,704.9L1060.1,664.5L1061.4,710.0L1062.7,659.5L1064.0,651.9L1065.3,682.2L1066.6,679.7L1067.8,624.2L1069.1,646.9L1070.4,616.6L1071.7,593.9L1073.0,611.5L1074.3,662.0L1075.6,624.2L1076.8,646.9L1078.1,609.0L1079.4,684.7L1080.7,581.3L1082.0,677.2L1083.3,644.4L1084.6,644.4L1085.8,634.3L1087.1,657.0L1088.4,682.2L1089.7,657.0L1091.0,677.2L1092.3,704.9L1093.6,692.3L1094.8,644.4L1096.1,720.1L1097.4,651.9L1098.7,634.3L1100.0,657.0L1101.3,687.3L1102.6,717.5L1103.8,697.4L1105.1,684.7L1106.4,657.0L1107.7,745.3L1109.0,720.1L1110.3,745.3L1111.6,743.4L1112.9,739.8L1114.1,782.6L1115.4,773.7L1116.7,761.2L1118.0,718.4L1119.3,757.6L1120.6,755.9L1121.9,764.8L1123.1,757.6L1124.4,782.6L1125.7,777.2L1127.0,791.5L1128.3,825.3L1129.6,832.5L1130.9,798.6L1132.1,811.1L1133.4,816.4L1134.7,841.4L1136.0,812.9L1137.3,843.2L1138.6,830.7L1139.9,843.2L1141.1,837.8L1142.4,818.2L1143.7,828.9L1145.0,862.8L1146.3,859.2L1147.6,820.0L1148.9,837.8L1150.1,861.0L1151.4,875.2L1152.7,855.6L1154.0,859.2L1155.3,893.0L1156.6,866.3L1157.9,855.6L1159.1,884.1L1160.4,901.9L1161.7,891.3L1163.0,900.2L1164.3,871.7L1165.6,875.2L1166.9,900.2L1168.1,900.2L1169.4,877.0L1170.7,871.7L1172.0,871.7L1173.3,900.2L1174.6,896.6L1175.9,894.8L1177.2,898.4L1178.4,900.2L1179.7,919.8L1181.0,925.1L1182.3,905.5L1183.6,894.8L1184.9,934.0L1186.2,903.7L1187.4,923.3L1188.7,919.8L1190.0,919.8L1191.3,921.5L1192.6,930.5L1193.9,910.9L1195.2,928.7L1196.4,916.2L1197.7,919.8L1199.0,918.0L1200.3,937.6L1201.6,926.9L1202.9,923.3L1204.2,921.5L1205.4,912.6L1206.7,916.2L1208.0,919.8L1209.3,941.1L1210.6,923.3L1211.9,928.7L1213.2,921.5L1214.4,919.8L1215.7,919.8L1217.0,898.4L1218.3,941.1L1219.6,928.7L1220.9,925.1L1222.2,923.3L1223.4,918.0L1224.7,925.1L1226.0,941.1L1227.3,941.1L1228.6,939.4L1229.9,950.1L1231.2,937.6L1232.4,935.8L1233.7,946.5L1235.0,951.8L1236.3,957.2L1237.6,935.8L1238.9,912.6L1240.2,928.7L1241.5,946.5L1242.7,939.4L1244.0,948.3L1245.3,935.8L1246.6,916.2L1247.9,935.8L1249.2,918.0L1250.5,942.9L1251.7,939.4L1253.0,926.9L1254.3,937.6L1255.6,944.7L1256.9,942.9L1258.2,944.7L1259.5,932.2L1260.7,928.7L1262.0,948.3L1263.3,950.1L1264.6,955.4L1265.9,946.5L1267.2,942.9L1268.5,944.7L1269.7,939.4L1271.0,950.1L1272.3,944.7L1273.6,937.6L1274.9,937.6L1276.2,946.5L1277.5,955.4L1278.7,944.7L1280.0,950.1L1281.3,950.1L1282.6,944.7L1283.9,953.6L1285.2,953.6L1286.5,950.1L1287.7,944.7L1289.0,946.5L1290.3,960.7L1291.6,948.3L1292.9,953.6L1294.2,946.5L1295.5,957.2L1296.7,957.2L1298.0,957.2L1299.3,959.0L1300.6,959.0L1301.9,951.8L1303.2,959.0L1304.5,950.1L1305.8,951.8L1307.0,960.7L1308.3,955.4L1309.6,959.0L1310.9,951.8L1312.2,969.6L1313.5,953.6L1314.8,971.4L1316.0,966.1L1317.3,964.3L1318.6,960.7L1319.9,960.7L1321.2,957.2L1322.5,959.0L1323.8,957.2L1325.0,959.0L1326.3,957.2L1327.6,957.2L1328.9,960.7L1330.2,971.4L1331.5,967.9L1332.8,962.5L1334.0,962.5L1335.3,966.1L1336.6,959.0L1337.9,955.4L1339.2,957.2L1340.5,969.6L1341.8,967.9L1343.0,959.0" fill="none" stroke="#000" stroke-width="1.45" stroke-linejoin="round"/>
<path d="M792.6,974.4L793.2,974.4L793.9,974.4L794.5,974.4L795.1,974.4L795.7,974.4L796.3,974.4L796.9,974.4L797.5,974.4L798.1,974.4L798.8,974.4L799.4,974.4L800.0,974.3L800.6,974.3L801.2,974.3L801.8,974.3L802.4,974.3L803.0,974.3L803.7,974.3L804.3,974.3L804.9,974.3L805.5,974.3L806.1,974.3L806.7,974.3L807.3,974.3L807.9,974.3L808.6,974.3L809.2,974.3L809.8,974.3L810.4,974.3L811.0,974.2L811.6,974.2L812.2,974.2L812.8,974.2L813.5,974.2L814.1,974.2L814.7,974.2L815.3,974.2L815.9,974.2L816.5,974.2L817.1,974.2L817.7,974.2L818.4,974.2L819.0,974.2L819.6,974.2L820.2,974.1L820.8,974.1L821.4,974.1L822.0,974.1L822.6,974.1L823.2,974.1L823.9,974.1L824.5,974.1L825.1,974.1L825.7,974.1L826.3,974.1L826.9,974.1L827.5,974.1L828.1,974.0L828.8,974.0L829.4,974.0L830.0,974.0L830.6,974.0L831.2,974.0L831.8,974.0L832.4,974.0L833.0,974.0L833.7,974.0L834.3,974.0L834.9,974.0L835.5,973.9L836.1,973.9L836.7,973.9L837.3,973.9L837.9,973.9L838.6,973.9L839.2,973.9L839.8,973.9L840.4,973.9L841.0,973.9L841.6,973.9L842.2,973.9L842.8,973.8L843.5,973.8L844.1,973.8L844.7,973.8L845.3,973.8L845.9,973.8L846.5,973.8L847.1,973.8L847.7,973.8L848.4,973.7L849.0,973.7L849.6,973.7L850.2,973.7L850.8,973.7L851.4,973.7L852.0,973.7L852.6,973.7L853.2,973.7L853.9,973.6L854.5,973.6L855.1,973.6L855.7,973.6L856.3,973.6L856.9,973.6L857.5,973.6L858.1,973.5L858.8,973.5L859.4,973.5L860.0,973.5L860.6,973.5L861.2,973.5L861.8,973.5L862.4,973.4L863.0,973.4L863.7,973.4L864.3,973.4L864.9,973.4L865.5,973.3L866.1,973.3L866.7,973.3L867.3,973.3L867.9,973.3L868.6,973.3L869.2,973.2L869.8,973.2L870.4,973.2L871.0,973.2L871.6,973.1L872.2,973.1L872.8,973.1L873.5,973.0L874.1,973.0L874.7,972.9L875.3,972.9L875.9,972.9L876.5,972.8L877.1,972.8L877.7,972.7L878.4,972.6L879.0,972.6L879.6,972.5L880.2,972.5L880.8,972.4L881.4,972.3L882.0,972.3L882.6,972.2L883.2,972.1L883.9,972.1L884.5,972.0L885.1,971.9L885.7,971.9L886.3,971.8L886.9,971.7L887.5,971.7L888.1,971.6L888.8,971.5L889.4,971.4L890.0,971.4L890.6,971.3L891.2,971.2L891.8,971.1L892.4,971.1L893.0,971.0L893.7,970.9L894.3,970.9L894.9,970.8L895.5,970.7L896.1,970.7L896.7,970.6L897.3,970.5L897.9,970.5L898.6,970.4L899.2,970.3L899.8,970.3L900.4,970.2L901.0,970.2L901.6,970.1L902.2,970.1L902.8,970.0L903.5,970.0L904.1,969.9L904.7,969.8L905.3,969.8L905.9,969.7L906.5,969.7L907.1,969.7L907.7,969.6L908.4,969.6L909.0,969.5L909.6,969.5L910.2,969.4L910.8,969.4L911.4,969.3L912.0,969.3L912.6,969.2L913.2,969.2L913.9,969.1L914.5,969.1L915.1,969.0L915.7,969.0L916.3,968.9L916.9,968.9L917.5,968.8L918.1,968.8L918.8,968.7L919.4,968.7L920.0,968.6L920.6,968.6L921.2,968.5L921.8,968.5L922.4,968.4L923.0,968.3L923.7,968.3L924.3,968.2L924.9,968.2L925.5,968.1L926.1,968.0L926.7,968.0L927.3,967.9L927.9,967.8L928.6,967.7L929.2,967.7L929.8,967.6L930.4,967.5L931.0,967.4L931.6,967.3L932.2,967.2L932.8,967.1L933.5,967.0L934.1,966.9L934.7,966.8L935.3,966.7L935.9,966.6L936.5,966.5L937.1,966.3L937.7,966.2L938.4,966.1L939.0,966.0L939.6,965.8L940.2,965.7L940.8,965.6L941.4,965.4L942.0,965.3L942.6,965.1L943.2,965.0L943.9,964.9L944.5,964.7L945.1,964.6L945.7,964.4L946.3,964.3L946.9,964.2L947.5,964.0L948.1,963.9L948.8,963.7L949.4,963.6L950.0,963.5L950.6,963.3L951.2,963.2L951.8,963.0L952.4,962.9L953.0,962.8L953.7,962.6L954.3,962.5L954.9,962.3L955.5,962.2L956.1,962.0L956.7,961.9L957.3,961.7L957.9,961.6L958.6,961.4L959.2,961.3L959.8,961.1L960.4,960.9L961.0,960.8L961.6,960.6L962.2,960.4L962.8,960.2L963.5,960.1L964.1,959.9L964.7,959.7L965.3,959.5L965.9,959.3L966.5,959.1L967.1,958.8L967.7,958.6L968.4,958.4L969.0,958.2L969.6,957.9L970.2,957.7L970.8,957.5L971.4,957.2L972.0,956.9L972.6,956.7L973.2,956.4L973.9,956.1L974.5,955.9L975.1,955.6L975.7,955.3L976.3,955.0L976.9,954.7L977.5,954.4L978.1,954.1L978.8,953.8L979.4,953.5L980.0,953.2L980.6,952.8L981.2,952.5L981.8,952.2L982.4,951.8L983.0,951.5L983.7,951.1L984.3,950.8L984.9,950.4L985.5,950.0L986.1,949.7L986.7,949.3L987.3,948.9L987.9,948.5L988.6,948.1L989.2,947.6L989.8,947.2L990.4,946.7L991.0,946.3L991.6,945.8L992.2,945.3L992.8,944.8L993.5,944.3L994.1,943.7L994.7,943.2L995.3,942.6L995.9,941.9L996.5,941.3L997.1,940.6L997.7,939.9L998.4,939.1L999.0,938.3L999.6,937.4L1000.2,936.5L1000.8,935.6L1001.4,934.6L1002.0,933.6L1002.6,932.5L1003.2,931.4L1003.9,930.3L1004.5,929.1L1005.1,927.9L1005.7,926.6L1006.3,925.3L1006.9,924.0L1007.5,922.6L1008.1,921.2L1008.8,919.7L1009.4,918.1L1010.0,916.5L1010.6,914.9L1011.2,913.3L1011.8,911.6L1012.4,909.8L1013.0,908.0L1013.7,906.2L1014.3,904.4L1014.9,902.5L1015.5,900.5L1016.1,898.6L1016.7,896.5L1017.3,894.5L1017.9,892.4L1018.6,890.4L1019.2,888.2L1019.8,886.1L1020.4,884.0L1021.0,881.8L1021.6,879.6L1022.2,877.4L1022.8,875.2L1023.5,872.9L1024.1,870.6L1024.7,868.2L1025.3,865.7L1025.9,863.2L1026.5,860.6L1027.1,857.9L1027.7,855.2L1028.4,852.3L1029.0,849.3L1029.6,846.3L1030.2,843.1L1030.8,839.8L1031.4,836.3L1032.0,832.8L1032.6,829.0L1033.2,825.2L1033.9,821.2L1034.5,817.0L1035.1,812.7L1035.7,808.3L1036.3,803.8L1036.9,799.2L1037.5,794.5L1038.1,789.8L1038.8,785.2L1039.4,780.6L1040.0,776.1L1040.6,771.8L1041.2,767.7L1041.8,763.7L1042.4,759.8L1043.0,756.0L1043.7,752.2L1044.3,748.5L1044.9,744.7L1045.5,740.9L1046.1,737.0L1046.7,733.2L1047.3,729.3L1047.9,725.5L1048.6,721.7L1049.2,718.0L1049.8,714.3L1050.4,710.8L1051.0,707.3L1051.6,703.9L1052.2,700.6L1052.8,697.3L1053.5,694.1L1054.1,690.8L1054.7,687.6L1055.3,684.4L1055.9,681.2L1056.5,678.1L1057.1,675.0L1057.7,671.9L1058.4,669.1L1059.0,666.3L1059.6,663.7L1060.2,661.3L1060.8,659.0L1061.4,656.9L1062.0,654.9L1062.6,653.0L1063.2,651.3L1063.9,649.7L1064.5,648.1L1065.1,646.7L1065.7,645.4L1066.3,644.2L1066.9,643.1L1067.5,642.0L1068.1,641.0L1068.8,640.1L1069.4,639.3L1070.0,638.5L1070.6,637.7L1071.2,637.1L1071.8,636.6L1072.4,636.1L1073.0,635.8L1073.7,635.7L1074.3,635.6L1074.9,635.7L1075.5,636.0L1076.1,636.4L1076.7,636.8L1077.3,637.4L1077.9,638.1L1078.6,638.9L1079.2,639.7L1079.8,640.6L1080.4,641.5L1081.0,642.5L1081.6,643.6L1082.2,644.8L1082.8,646.0L1083.5,647.3L1084.1,648.7L1084.7,650.2L1085.3,651.8L1085.9,653.5L1086.5,655.2L1087.1,656.9L1087.7,658.7L1088.4,660.4L1089.0,662.2L1089.6,664.0L1090.2,665.7L1090.8,667.5L1091.4,669.2L1092.0,671.0L1092.6,672.8L1093.2,674.6L1093.9,676.4L1094.5,678.2L1095.1,680.1L1095.7,682.0L1096.3,683.9L1096.9,685.9L1097.5,688.0L1098.1,690.1L1098.8,692.2L1099.4,694.4L1100.0,696.7L1100.6,699.0L1101.2,701.4L1101.8,703.8L1102.4,706.3L1103.0,708.8L1103.7,711.3L1104.3,713.8L1104.9,716.3L1105.5,718.8L1106.1,721.3L1106.7,723.8L1107.3,726.3L1107.9,728.8L1108.6,731.3L1109.2,733.8L1109.8,736.3L1110.4,738.7L1111.0,741.2L1111.6,743.7L1112.2,746.1L1112.8,748.5L1113.5,750.8L1114.1,753.1L1114.7,755.4L1115.3,757.6L1115.9,759.7L1116.5,761.8L1117.1,763.8L1117.7,765.8L1118.4,767.8L1119.0,769.8L1119.6,771.7L1120.2,773.7L1120.8,775.6L1121.4,777.5L1122.0,779.5L1122.6,781.5L1123.2,783.5L1123.9,785.5L1124.5,787.5L1125.1,789.5L1125.7,791.6L1126.3,793.6L1126.9,795.6L1127.5,797.6L1128.1,799.5L1128.8,801.5L1129.4,803.4L1130.0,805.3L1130.6,807.1L1131.2,809.0L1131.8,810.8L1132.4,812.6L1133.0,814.4L1133.7,816.2L1134.3,818.0L1134.9,819.7L1135.5,821.5L1136.1,823.2L1136.7,824.9L1137.3,826.6L1137.9,828.2L1138.6,829.9L1139.2,831.5L1139.8,833.1L1140.4,834.7L1141.0,836.3L1141.6,837.8L1142.2,839.3L1142.8,840.9L1143.5,842.4L1144.1,843.9L1144.7,845.4L1145.3,846.9L1145.9,848.3L1146.5,849.8L1147.1,851.3L1147.7,852.8L1148.4,854.3L1149.0,855.9L1149.6,857.4L1150.2,859.0L1150.8,860.6L1151.4,862.2L1152.0,863.8L1152.6,865.5L1153.2,867.2L1153.9,868.9L1154.5,870.5L1155.1,872.2L1155.7,873.8L1156.3,875.4L1156.9,877.0L1157.5,878.4L1158.1,879.9L1158.8,881.2L1159.4,882.5L1160.0,883.7L1160.6,884.8L1161.2,885.9L1161.8,887.0L1162.4,888.0L1163.0,889.0L1163.7,890.0L1164.3,890.9L1164.9,891.8L1165.5,892.7L1166.1,893.6L1166.7,894.5L1167.3,895.3L1167.9,896.1L1168.6,896.9L1169.2,897.6L1169.8,898.4L1170.4,899.1L1171.0,899.8L1171.6,900.5L1172.2,901.2L1172.8,901.8L1173.5,902.4L1174.1,903.0L1174.7,903.6L1175.3,904.2L1175.9,904.8L1176.5,905.3L1177.1,905.9L1177.7,906.4L1178.4,906.9L1179.0,907.4L1179.6,907.9L1180.2,908.4L1180.8,908.9L1181.4,909.4L1182.0,909.9L1182.6,910.3L1183.2,910.8L1183.9,911.2L1184.5,911.7L1185.1,912.1L1185.7,912.5L1186.3,912.9L1186.9,913.4L1187.5,913.8L1188.1,914.2L1188.8,914.5L1189.4,914.9L1190.0,915.3L1190.6,915.7L1191.2,916.0L1191.8,916.4L1192.4,916.7L1193.0,917.1L1193.7,917.4L1194.3,917.8L1194.9,918.1L1195.5,918.4L1196.1,918.7L1196.7,919.0L1197.3,919.3L1197.9,919.6L1198.6,919.9L1199.2,920.2L1199.8,920.5L1200.4,920.8L1201.0,921.0L1201.6,921.3L1202.2,921.6L1202.8,921.8L1203.5,922.1L1204.1,922.3L1204.7,922.6L1205.3,922.8L1205.9,923.0L1206.5,923.3L1207.1,923.5L1207.7,923.7L1208.4,923.9L1209.0,924.1L1209.6,924.4L1210.2,924.6L1210.8,924.8L1211.4,925.0L1212.0,925.2L1212.6,925.4L1213.2,925.6L1213.9,925.8L1214.5,926.0L1215.1,926.2L1215.7,926.4L1216.3,926.6L1216.9,926.8L1217.5,927.0L1218.1,927.2L1218.8,927.4L1219.4,927.6L1220.0,927.8L1220.6,928.0L1221.2,928.2L1221.8,928.4L1222.4,928.6L1223.0,928.8L1223.7,929.0L1224.3,929.2L1224.9,929.4L1225.5,929.6L1226.1,929.8L1226.7,930.1L1227.3,930.3L1227.9,930.5L1228.6,930.7L1229.2,931.0L1229.8,931.2L1230.4,931.4L1231.0,931.6L1231.6,931.9L1232.2,932.1L1232.8,932.3L1233.5,932.5L1234.1,932.8L1234.7,933.0L1235.3,933.2L1235.9,933.5L1236.5,933.7L1237.1,933.9L1237.7,934.2L1238.4,934.4L1239.0,934.6L1239.6,934.8L1240.2,935.1L1240.8,935.3L1241.4,935.5L1242.0,935.8L1242.6,936.0L1243.2,936.2L1243.9,936.5L1244.5,936.7L1245.1,936.9L1245.7,937.2L1246.3,937.4L1246.9,937.6L1247.5,937.8L1248.1,938.1L1248.8,938.3L1249.4,938.5L1250.0,938.7L1250.6,939.0L1251.2,939.2L1251.8,939.4L1252.4,939.6L1253.0,939.9L1253.7,940.1L1254.3,940.3L1254.9,940.5L1255.5,940.7L1256.1,941.0L1256.7,941.2L1257.3,941.4L1257.9,941.6L1258.6,941.8L1259.2,942.0L1259.8,942.3L1260.4,942.5L1261.0,942.7L1261.6,942.9L1262.2,943.1L1262.8,943.3L1263.5,943.5L1264.1,943.8L1264.7,944.0L1265.3,944.2L1265.9,944.4L1266.5,944.6L1267.1,944.8L1267.7,945.0L1268.4,945.2L1269.0,945.5L1269.6,945.7L1270.2,945.9L1270.8,946.1L1271.4,946.3L1272.0,946.5L1272.6,946.7L1273.2,946.9L1273.9,947.1L1274.5,947.3L1275.1,947.5L1275.7,947.7L1276.3,947.9L1276.9,948.1L1277.5,948.3L1278.1,948.5L1278.8,948.7L1279.4,948.9L1280.0,949.1L1280.6,949.3L1281.2,949.5L1281.8,949.7L1282.4,949.9L1283.0,950.1L1283.7,950.3L1284.3,950.4L1284.9,950.6L1285.5,950.8L1286.1,951.0L1286.7,951.2L1287.3,951.3L1287.9,951.5L1288.6,951.7L1289.2,951.9L1289.8,952.0L1290.4,952.2L1291.0,952.4L1291.6,952.6L1292.2,952.7L1292.8,952.9L1293.5,953.1L1294.1,953.2L1294.7,953.4L1295.3,953.5L1295.9,953.7L1296.5,953.9L1297.1,954.0L1297.7,954.2L1298.4,954.4L1299.0,954.5L1299.6,954.7L1300.2,954.8L1300.8,955.0L1301.4,955.1L1302.0,955.3L1302.6,955.5L1303.2,955.6L1303.9,955.8L1304.5,955.9L1305.1,956.1L1305.7,956.2L1306.3,956.4L1306.9,956.5L1307.5,956.7L1308.1,956.9L1308.8,957.0L1309.4,957.2L1310.0,957.3L1310.6,957.5L1311.2,957.6L1311.8,957.8L1312.4,957.9L1313.0,958.1L1313.7,958.3L1314.3,958.4L1314.9,958.6L1315.5,958.7L1316.1,958.9L1316.7,959.0L1317.3,959.2L1317.9,959.3L1318.6,959.5L1319.2,959.7L1319.8,959.8L1320.4,960.0L1321.0,960.1L1321.6,960.3L1322.2,960.4L1322.8,960.6L1323.5,960.7L1324.1,960.9L1324.7,961.1L1325.3,961.2L1325.9,961.4L1326.5,961.5L1327.1,961.7L1327.7,961.8L1328.4,962.0L1329.0,962.1L1329.6,962.3L1330.2,962.4L1330.8,962.6L1331.4,962.7L1332.0,962.9L1332.6,963.1L1333.2,963.2L1333.9,963.4L1334.5,963.5L1335.1,963.7L1335.7,963.8L1336.3,964.0L1336.9,964.1L1337.5,964.3L1338.1,964.4L1338.8,964.6L1339.4,964.7L1340.0,964.9L1340.6,965.0L1341.2,965.1L1341.8,965.2L1342.4,965.3L1343.0,965.4" fill="none" stroke="#f00" stroke-width="1.45" stroke-linejoin="round"/>
<rect x="1108.5" y="539.5" width="327.2" height="71.2" fill="#fff" stroke="#555" stroke-width="1.25"/><path d="M1108.5,559.5H1156.1" stroke="#000" stroke-width="1.3"/><path d="M1108.5,596.8H1156.1" stroke="#f00" stroke-width="1.3"/><text transform="translate(1163.20,565.80) scale(1,1.035)" font-size="30.45">39 u</text><text transform="translate(1163.80,602.20) scale(1,1.035)" font-size="30.45">Cumulative Fit Peak</text>
<text transform="translate(39.20,244.00) rotate(-90) scale(1,1.035)" text-anchor="middle" font-size="39.5">Ion yield (Hz)</text>
<text transform="translate(31.80,758.00) rotate(-90) scale(1,1.035)" text-anchor="middle" font-size="39.5">Ion yield (Hz)</text>
<text transform="translate(408.10,1070.10) scale(1,1.035)" text-anchor="middle" font-size="39.5">Electron energy (eV)</text>
<text transform="translate(1097.00,1070.80) scale(1,1.035)" text-anchor="middle" font-size="39.5">Electron energy (eV)</text>
</svg>
</body></html>
